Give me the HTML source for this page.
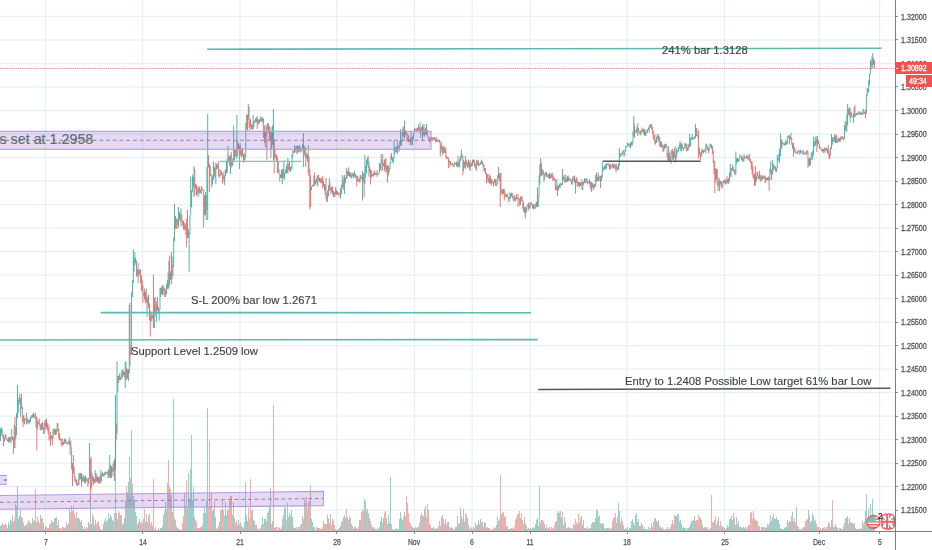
<!DOCTYPE html>
<html><head><meta charset="utf-8">
<style>
html,body{margin:0;padding:0;background:#fff;}
body{width:932px;height:550px;position:relative;overflow:hidden;font-family:"Liberation Sans",sans-serif;}
.gh{position:absolute;left:0;width:895px;height:1px;background:#eef1f6;}
.gv{position:absolute;top:0;height:531px;width:1px;background:#eef1f6;}
.pl{position:absolute;left:901px;width:40px;font-size:9px;line-height:12px;color:#50535c;-webkit-text-stroke:0.3px #50535c;transform:scaleX(0.79);transform-origin:0 0;white-space:nowrap;filter:grayscale(1);}
.tk{position:absolute;left:896px;width:2px;height:1px;background:#8a8d96;}
.tl{position:absolute;top:535.6px;width:40px;text-align:center;font-size:8.6px;line-height:12px;color:#50535c;-webkit-text-stroke:0.25px #50535c;transform:scaleX(0.8);filter:grayscale(1);}
.tt{position:absolute;top:532px;width:1px;height:2px;background:#8a8d96;}
svg{position:absolute;left:0;top:0;}
.txt{position:absolute;white-space:nowrap;font-size:11.25px;line-height:13px;color:#3f4249;-webkit-text-stroke:0.15px #3f4249;filter:grayscale(1);}
</style></head><body>
<svg width="895" height="531" style="position:absolute;left:0;top:0">
<line x1="0" y1="16.47" x2="895" y2="16.47" stroke="#e9f0f4" stroke-width="1.3"/>
<line x1="0" y1="39.98" x2="895" y2="39.98" stroke="#e9f0f4" stroke-width="1.3"/>
<line x1="0" y1="63.49" x2="895" y2="63.49" stroke="#e9f0f4" stroke-width="1.3"/>
<line x1="0" y1="86.99" x2="895" y2="86.99" stroke="#e9f0f4" stroke-width="1.3"/>
<line x1="0" y1="110.50" x2="895" y2="110.50" stroke="#e9f0f4" stroke-width="1.3"/>
<line x1="0" y1="134.01" x2="895" y2="134.01" stroke="#e9f0f4" stroke-width="1.3"/>
<line x1="0" y1="157.51" x2="895" y2="157.51" stroke="#e9f0f4" stroke-width="1.3"/>
<line x1="0" y1="181.02" x2="895" y2="181.02" stroke="#e9f0f4" stroke-width="1.3"/>
<line x1="0" y1="204.53" x2="895" y2="204.53" stroke="#e9f0f4" stroke-width="1.3"/>
<line x1="0" y1="228.04" x2="895" y2="228.04" stroke="#e9f0f4" stroke-width="1.3"/>
<line x1="0" y1="251.54" x2="895" y2="251.54" stroke="#e9f0f4" stroke-width="1.3"/>
<line x1="0" y1="275.05" x2="895" y2="275.05" stroke="#e9f0f4" stroke-width="1.3"/>
<line x1="0" y1="298.56" x2="895" y2="298.56" stroke="#e9f0f4" stroke-width="1.3"/>
<line x1="0" y1="322.06" x2="895" y2="322.06" stroke="#e9f0f4" stroke-width="1.3"/>
<line x1="0" y1="345.57" x2="895" y2="345.57" stroke="#e9f0f4" stroke-width="1.3"/>
<line x1="0" y1="369.08" x2="895" y2="369.08" stroke="#e9f0f4" stroke-width="1.3"/>
<line x1="0" y1="392.58" x2="895" y2="392.58" stroke="#e9f0f4" stroke-width="1.3"/>
<line x1="0" y1="416.09" x2="895" y2="416.09" stroke="#e9f0f4" stroke-width="1.3"/>
<line x1="0" y1="439.60" x2="895" y2="439.60" stroke="#e9f0f4" stroke-width="1.3"/>
<line x1="0" y1="463.11" x2="895" y2="463.11" stroke="#e9f0f4" stroke-width="1.3"/>
<line x1="0" y1="486.61" x2="895" y2="486.61" stroke="#e9f0f4" stroke-width="1.3"/>
<line x1="0" y1="510.12" x2="895" y2="510.12" stroke="#e9f0f4" stroke-width="1.3"/>
<line x1="45.50" y1="0" x2="45.50" y2="531" stroke="#e9f0f4" stroke-width="1.3"/>
<line x1="142.50" y1="0" x2="142.50" y2="531" stroke="#e9f0f4" stroke-width="1.3"/>
<line x1="240.00" y1="0" x2="240.00" y2="531" stroke="#e9f0f4" stroke-width="1.3"/>
<line x1="336.70" y1="0" x2="336.70" y2="531" stroke="#e9f0f4" stroke-width="1.3"/>
<line x1="414.40" y1="0" x2="414.40" y2="531" stroke="#e9f0f4" stroke-width="1.3"/>
<line x1="472.20" y1="0" x2="472.20" y2="531" stroke="#e9f0f4" stroke-width="1.3"/>
<line x1="530.20" y1="0" x2="530.20" y2="531" stroke="#e9f0f4" stroke-width="1.3"/>
<line x1="627.20" y1="0" x2="627.20" y2="531" stroke="#e9f0f4" stroke-width="1.3"/>
<line x1="724.50" y1="0" x2="724.50" y2="531" stroke="#e9f0f4" stroke-width="1.3"/>
<line x1="819.40" y1="0" x2="819.40" y2="531" stroke="#e9f0f4" stroke-width="1.3"/>
<line x1="879.60" y1="0" x2="879.60" y2="531" stroke="#e9f0f4" stroke-width="1.3"/>
</svg>
<svg width="895" height="531" viewBox="0 0 895 531">
<g shape-rendering="crispEdges">
<rect x="0" y="525.8" width="1" height="5.2" fill="#93d2cc"/>
<rect x="1" y="524.7" width="1" height="6.3" fill="#93d2cc"/>
<rect x="2" y="522.6" width="1" height="8.4" fill="#f8aba9"/>
<rect x="3" y="525.0" width="1" height="6.0" fill="#f8aba9"/>
<rect x="4" y="525.3" width="1" height="5.7" fill="#93d2cc"/>
<rect x="5" y="523.9" width="1" height="7.1" fill="#f8aba9"/>
<rect x="6" y="524.9" width="1" height="6.1" fill="#f8aba9"/>
<rect x="7" y="527.5" width="1" height="3.5" fill="#f8aba9"/>
<rect x="8" y="522.0" width="1" height="9.0" fill="#93d2cc"/>
<rect x="9" y="524.7" width="1" height="6.3" fill="#93d2cc"/>
<rect x="10" y="520.4" width="1" height="10.6" fill="#93d2cc"/>
<rect x="11" y="521.0" width="1" height="10.0" fill="#93d2cc"/>
<rect x="12" y="514.8" width="1" height="16.2" fill="#f8aba9"/>
<rect x="13" y="521.9" width="1" height="9.1" fill="#93d2cc"/>
<rect x="14" y="518.5" width="1" height="12.5" fill="#f8aba9"/>
<rect x="15" y="504.2" width="1" height="26.8" fill="#f8aba9"/>
<rect x="16" y="505.9" width="1" height="25.1" fill="#93d2cc"/>
<rect x="17" y="511.5" width="1" height="19.5" fill="#93d2cc"/>
<rect x="18" y="519.2" width="1" height="11.8" fill="#93d2cc"/>
<rect x="19" y="515.7" width="1" height="15.3" fill="#93d2cc"/>
<rect x="20" y="509.8" width="1" height="21.2" fill="#93d2cc"/>
<rect x="21" y="516.8" width="1" height="14.2" fill="#f8aba9"/>
<rect x="22" y="517.6" width="1" height="13.4" fill="#f8aba9"/>
<rect x="23" y="523.3" width="1" height="7.7" fill="#f8aba9"/>
<rect x="24" y="526.2" width="1" height="4.8" fill="#93d2cc"/>
<rect x="25" y="524.5" width="1" height="6.5" fill="#93d2cc"/>
<rect x="26" y="524.5" width="1" height="6.5" fill="#f8aba9"/>
<rect x="27" y="523.2" width="1" height="7.8" fill="#93d2cc"/>
<rect x="28" y="520.4" width="1" height="10.6" fill="#f8aba9"/>
<rect x="29" y="521.5" width="1" height="9.5" fill="#93d2cc"/>
<rect x="30" y="522.9" width="1" height="8.1" fill="#93d2cc"/>
<rect x="31" y="523.5" width="1" height="7.5" fill="#f8aba9"/>
<rect x="32" y="518.2" width="1" height="12.8" fill="#93d2cc"/>
<rect x="33" y="520.5" width="1" height="10.5" fill="#93d2cc"/>
<rect x="34" y="520.4" width="1" height="10.6" fill="#f8aba9"/>
<rect x="35" y="513.6" width="1" height="17.4" fill="#f8aba9"/>
<rect x="36" y="521.9" width="1" height="9.1" fill="#f8aba9"/>
<rect x="37" y="516.6" width="1" height="14.4" fill="#93d2cc"/>
<rect x="38" y="521.2" width="1" height="9.8" fill="#f8aba9"/>
<rect x="39" y="523.3" width="1" height="7.7" fill="#f8aba9"/>
<rect x="40" y="514.8" width="1" height="16.2" fill="#93d2cc"/>
<rect x="41" y="518.3" width="1" height="12.7" fill="#f8aba9"/>
<rect x="42" y="517.8" width="1" height="13.2" fill="#f8aba9"/>
<rect x="43" y="523.0" width="1" height="8.0" fill="#93d2cc"/>
<rect x="44" y="528.7" width="1" height="2.3" fill="#93d2cc"/>
<rect x="45" y="527.1" width="1" height="3.9" fill="#f8aba9"/>
<rect x="46" y="527.1" width="1" height="3.9" fill="#f8aba9"/>
<rect x="47" y="527.5" width="1" height="3.5" fill="#f8aba9"/>
<rect x="48" y="528.4" width="1" height="2.6" fill="#f8aba9"/>
<rect x="49" y="523.8" width="1" height="7.2" fill="#f8aba9"/>
<rect x="50" y="524.2" width="1" height="6.8" fill="#f8aba9"/>
<rect x="51" y="519.6" width="1" height="11.4" fill="#f8aba9"/>
<rect x="52" y="522.2" width="1" height="8.8" fill="#93d2cc"/>
<rect x="53" y="522.4" width="1" height="8.6" fill="#93d2cc"/>
<rect x="54" y="518.3" width="1" height="12.7" fill="#f8aba9"/>
<rect x="55" y="518.3" width="1" height="12.7" fill="#93d2cc"/>
<rect x="56" y="517.1" width="1" height="13.9" fill="#93d2cc"/>
<rect x="57" y="524.7" width="1" height="6.3" fill="#f8aba9"/>
<rect x="58" y="520.3" width="1" height="10.7" fill="#f8aba9"/>
<rect x="59" y="528.1" width="1" height="2.9" fill="#f8aba9"/>
<rect x="60" y="528.0" width="1" height="3.0" fill="#f8aba9"/>
<rect x="61" y="528.5" width="1" height="2.5" fill="#f8aba9"/>
<rect x="62" y="527.4" width="1" height="3.6" fill="#f8aba9"/>
<rect x="63" y="527.3" width="1" height="3.7" fill="#93d2cc"/>
<rect x="64" y="527.6" width="1" height="3.4" fill="#93d2cc"/>
<rect x="65" y="527.0" width="1" height="4.0" fill="#f8aba9"/>
<rect x="66" y="522.2" width="1" height="8.8" fill="#f8aba9"/>
<rect x="67" y="524.7" width="1" height="6.3" fill="#f8aba9"/>
<rect x="68" y="524.1" width="1" height="6.9" fill="#93d2cc"/>
<rect x="69" y="509.1" width="1" height="21.9" fill="#93d2cc"/>
<rect x="70" y="511.6" width="1" height="19.4" fill="#f8aba9"/>
<rect x="71" y="506.0" width="1" height="25.0" fill="#f8aba9"/>
<rect x="72" y="510.9" width="1" height="20.1" fill="#93d2cc"/>
<rect x="73" y="505.9" width="1" height="25.1" fill="#f8aba9"/>
<rect x="74" y="512.9" width="1" height="18.1" fill="#f8aba9"/>
<rect x="75" y="517.7" width="1" height="13.3" fill="#f8aba9"/>
<rect x="76" y="512.1" width="1" height="18.9" fill="#f8aba9"/>
<rect x="77" y="518.2" width="1" height="12.8" fill="#93d2cc"/>
<rect x="78" y="517.5" width="1" height="13.5" fill="#93d2cc"/>
<rect x="79" y="519.4" width="1" height="11.6" fill="#93d2cc"/>
<rect x="80" y="521.6" width="1" height="9.4" fill="#93d2cc"/>
<rect x="81" y="520.4" width="1" height="10.6" fill="#f8aba9"/>
<rect x="82" y="526.1" width="1" height="4.9" fill="#93d2cc"/>
<rect x="83" y="529.2" width="1" height="1.8" fill="#93d2cc"/>
<rect x="84" y="527.1" width="1" height="3.9" fill="#f8aba9"/>
<rect x="85" y="529.0" width="1" height="2.0" fill="#f8aba9"/>
<rect x="86" y="526.6" width="1" height="4.4" fill="#f8aba9"/>
<rect x="87" y="527.5" width="1" height="3.5" fill="#f8aba9"/>
<rect x="88" y="522.3" width="1" height="8.7" fill="#93d2cc"/>
<rect x="89" y="523.6" width="1" height="7.4" fill="#f8aba9"/>
<rect x="90" y="523.3" width="1" height="7.7" fill="#f8aba9"/>
<rect x="91" y="524.2" width="1" height="6.8" fill="#93d2cc"/>
<rect x="92" y="514.0" width="1" height="17.0" fill="#f8aba9"/>
<rect x="93" y="517.1" width="1" height="13.9" fill="#f8aba9"/>
<rect x="94" y="524.5" width="1" height="6.5" fill="#93d2cc"/>
<rect x="95" y="519.6" width="1" height="11.4" fill="#93d2cc"/>
<rect x="96" y="523.5" width="1" height="7.5" fill="#f8aba9"/>
<rect x="97" y="521.8" width="1" height="9.2" fill="#f8aba9"/>
<rect x="98" y="521.3" width="1" height="9.7" fill="#f8aba9"/>
<rect x="99" y="526.2" width="1" height="4.8" fill="#f8aba9"/>
<rect x="100" y="529.3" width="1" height="1.7" fill="#93d2cc"/>
<rect x="101" y="529.6" width="1" height="1.4" fill="#93d2cc"/>
<rect x="102" y="528.6" width="1" height="2.4" fill="#f8aba9"/>
<rect x="103" y="523.6" width="1" height="7.4" fill="#93d2cc"/>
<rect x="104" y="520.6" width="1" height="10.4" fill="#93d2cc"/>
<rect x="105" y="517.9" width="1" height="13.1" fill="#93d2cc"/>
<rect x="106" y="522.3" width="1" height="8.7" fill="#f8aba9"/>
<rect x="107" y="520.1" width="1" height="10.9" fill="#f8aba9"/>
<rect x="108" y="513.1" width="1" height="17.9" fill="#93d2cc"/>
<rect x="109" y="518.4" width="1" height="12.6" fill="#93d2cc"/>
<rect x="110" y="514.5" width="1" height="16.5" fill="#93d2cc"/>
<rect x="111" y="516.6" width="1" height="14.4" fill="#93d2cc"/>
<rect x="112" y="520.4" width="1" height="10.6" fill="#93d2cc"/>
<rect x="113" y="521.3" width="1" height="9.7" fill="#f8aba9"/>
<rect x="114" y="513.3" width="1" height="17.7" fill="#f8aba9"/>
<rect x="115" y="521.1" width="1" height="9.9" fill="#f8aba9"/>
<rect x="116" y="513.4" width="1" height="17.6" fill="#93d2cc"/>
<rect x="117" y="518.8" width="1" height="12.2" fill="#93d2cc"/>
<rect x="118" y="510.9" width="1" height="20.1" fill="#f8aba9"/>
<rect x="119" y="512.9" width="1" height="18.1" fill="#f8aba9"/>
<rect x="120" y="515.1" width="1" height="15.9" fill="#93d2cc"/>
<rect x="121" y="514.6" width="1" height="16.4" fill="#f8aba9"/>
<rect x="122" y="524.6" width="1" height="6.4" fill="#93d2cc"/>
<rect x="123" y="523.0" width="1" height="8.0" fill="#f8aba9"/>
<rect x="124" y="518.2" width="1" height="12.8" fill="#93d2cc"/>
<rect x="125" y="500.9" width="1" height="30.1" fill="#93d2cc"/>
<rect x="126" y="486.3" width="1" height="44.7" fill="#f8aba9"/>
<rect x="127" y="492.4" width="1" height="38.6" fill="#93d2cc"/>
<rect x="128" y="482.1" width="1" height="48.9" fill="#93d2cc"/>
<rect x="129" y="511.1" width="1" height="19.9" fill="#f8aba9"/>
<rect x="130" y="477.8" width="1" height="53.2" fill="#f8aba9"/>
<rect x="131" y="478.4" width="1" height="52.6" fill="#93d2cc"/>
<rect x="132" y="484.2" width="1" height="46.8" fill="#93d2cc"/>
<rect x="133" y="495.6" width="1" height="35.4" fill="#93d2cc"/>
<rect x="134" y="501.3" width="1" height="29.7" fill="#93d2cc"/>
<rect x="135" y="511.8" width="1" height="19.2" fill="#93d2cc"/>
<rect x="136" y="515.5" width="1" height="15.5" fill="#f8aba9"/>
<rect x="137" y="524.2" width="1" height="6.8" fill="#93d2cc"/>
<rect x="138" y="521.8" width="1" height="9.2" fill="#f8aba9"/>
<rect x="139" y="518.8" width="1" height="12.2" fill="#93d2cc"/>
<rect x="140" y="522.5" width="1" height="8.5" fill="#f8aba9"/>
<rect x="141" y="520.7" width="1" height="10.3" fill="#f8aba9"/>
<rect x="142" y="522.9" width="1" height="8.1" fill="#f8aba9"/>
<rect x="143" y="518.8" width="1" height="12.2" fill="#93d2cc"/>
<rect x="144" y="509.2" width="1" height="21.8" fill="#f8aba9"/>
<rect x="145" y="522.4" width="1" height="8.6" fill="#93d2cc"/>
<rect x="146" y="513.6" width="1" height="17.4" fill="#93d2cc"/>
<rect x="147" y="522.4" width="1" height="8.6" fill="#f8aba9"/>
<rect x="148" y="516.4" width="1" height="14.6" fill="#f8aba9"/>
<rect x="149" y="514.0" width="1" height="17.0" fill="#f8aba9"/>
<rect x="150" y="524.1" width="1" height="6.9" fill="#f8aba9"/>
<rect x="151" y="521.8" width="1" height="9.2" fill="#93d2cc"/>
<rect x="152" y="526.2" width="1" height="4.8" fill="#93d2cc"/>
<rect x="153" y="528.0" width="1" height="3.0" fill="#93d2cc"/>
<rect x="154" y="528.7" width="1" height="2.3" fill="#f8aba9"/>
<rect x="155" y="526.9" width="1" height="4.1" fill="#f8aba9"/>
<rect x="156" y="529.7" width="1" height="1.3" fill="#93d2cc"/>
<rect x="157" y="529.9" width="1" height="1.1" fill="#f8aba9"/>
<rect x="158" y="527.7" width="1" height="3.3" fill="#93d2cc"/>
<rect x="159" y="529.7" width="1" height="1.3" fill="#93d2cc"/>
<rect x="160" y="528.0" width="1" height="3.0" fill="#93d2cc"/>
<rect x="161" y="527.9" width="1" height="3.1" fill="#93d2cc"/>
<rect x="162" y="525.9" width="1" height="5.1" fill="#f8aba9"/>
<rect x="163" y="514.9" width="1" height="16.1" fill="#93d2cc"/>
<rect x="164" y="510.5" width="1" height="20.5" fill="#f8aba9"/>
<rect x="165" y="501.8" width="1" height="29.2" fill="#93d2cc"/>
<rect x="166" y="508.8" width="1" height="22.2" fill="#93d2cc"/>
<rect x="167" y="483.2" width="1" height="47.8" fill="#93d2cc"/>
<rect x="168" y="485.3" width="1" height="45.7" fill="#93d2cc"/>
<rect x="169" y="485.9" width="1" height="45.1" fill="#f8aba9"/>
<rect x="170" y="488.9" width="1" height="42.1" fill="#f8aba9"/>
<rect x="171" y="494.5" width="1" height="36.5" fill="#93d2cc"/>
<rect x="172" y="512.0" width="1" height="19.0" fill="#f8aba9"/>
<rect x="173" y="492.9" width="1" height="38.1" fill="#93d2cc"/>
<rect x="174" y="518.4" width="1" height="12.6" fill="#93d2cc"/>
<rect x="175" y="519.8" width="1" height="11.2" fill="#f8aba9"/>
<rect x="176" y="526.1" width="1" height="4.9" fill="#f8aba9"/>
<rect x="177" y="528.0" width="1" height="3.0" fill="#93d2cc"/>
<rect x="178" y="528.8" width="1" height="2.2" fill="#93d2cc"/>
<rect x="179" y="529.3" width="1" height="1.7" fill="#f8aba9"/>
<rect x="180" y="529.7" width="1" height="1.3" fill="#93d2cc"/>
<rect x="181" y="529.8" width="1" height="1.2" fill="#f8aba9"/>
<rect x="182" y="523.1" width="1" height="7.9" fill="#f8aba9"/>
<rect x="183" y="515.6" width="1" height="15.4" fill="#f8aba9"/>
<rect x="184" y="492.8" width="1" height="38.2" fill="#93d2cc"/>
<rect x="185" y="506.4" width="1" height="24.6" fill="#f8aba9"/>
<rect x="186" y="480.2" width="1" height="50.8" fill="#f8aba9"/>
<rect x="187" y="507.6" width="1" height="23.4" fill="#93d2cc"/>
<rect x="188" y="472.7" width="1" height="58.3" fill="#93d2cc"/>
<rect x="189" y="500.3" width="1" height="30.7" fill="#93d2cc"/>
<rect x="190" y="469.3" width="1" height="61.7" fill="#93d2cc"/>
<rect x="191" y="480.8" width="1" height="50.2" fill="#93d2cc"/>
<rect x="192" y="500.3" width="1" height="30.7" fill="#93d2cc"/>
<rect x="193" y="486.5" width="1" height="44.5" fill="#93d2cc"/>
<rect x="194" y="516.8" width="1" height="14.2" fill="#f8aba9"/>
<rect x="195" y="519.5" width="1" height="11.5" fill="#f8aba9"/>
<rect x="196" y="522.0" width="1" height="9.0" fill="#f8aba9"/>
<rect x="197" y="527.7" width="1" height="3.3" fill="#93d2cc"/>
<rect x="198" y="528.3" width="1" height="2.7" fill="#f8aba9"/>
<rect x="199" y="527.8" width="1" height="3.2" fill="#f8aba9"/>
<rect x="200" y="527.4" width="1" height="3.6" fill="#93d2cc"/>
<rect x="201" y="527.4" width="1" height="3.6" fill="#f8aba9"/>
<rect x="202" y="525.2" width="1" height="5.8" fill="#93d2cc"/>
<rect x="203" y="513.3" width="1" height="17.7" fill="#f8aba9"/>
<rect x="204" y="506.1" width="1" height="24.9" fill="#93d2cc"/>
<rect x="205" y="513.1" width="1" height="17.9" fill="#93d2cc"/>
<rect x="206" y="501.1" width="1" height="29.9" fill="#93d2cc"/>
<rect x="207" y="505.7" width="1" height="25.3" fill="#93d2cc"/>
<rect x="208" y="506.7" width="1" height="24.3" fill="#f8aba9"/>
<rect x="209" y="489.1" width="1" height="41.9" fill="#f8aba9"/>
<rect x="210" y="506.4" width="1" height="24.6" fill="#f8aba9"/>
<rect x="211" y="492.3" width="1" height="38.7" fill="#f8aba9"/>
<rect x="212" y="511.3" width="1" height="19.7" fill="#93d2cc"/>
<rect x="213" y="509.3" width="1" height="21.7" fill="#93d2cc"/>
<rect x="214" y="500.9" width="1" height="30.1" fill="#f8aba9"/>
<rect x="215" y="516.5" width="1" height="14.5" fill="#93d2cc"/>
<rect x="216" y="527.8" width="1" height="3.2" fill="#f8aba9"/>
<rect x="217" y="529.2" width="1" height="1.8" fill="#f8aba9"/>
<rect x="218" y="526.4" width="1" height="4.6" fill="#f8aba9"/>
<rect x="219" y="522.3" width="1" height="8.7" fill="#93d2cc"/>
<rect x="220" y="510.2" width="1" height="20.8" fill="#93d2cc"/>
<rect x="221" y="510.3" width="1" height="20.7" fill="#f8aba9"/>
<rect x="222" y="499.5" width="1" height="31.5" fill="#f8aba9"/>
<rect x="223" y="509.6" width="1" height="21.4" fill="#f8aba9"/>
<rect x="224" y="515.9" width="1" height="15.1" fill="#93d2cc"/>
<rect x="225" y="502.0" width="1" height="29.0" fill="#93d2cc"/>
<rect x="226" y="514.7" width="1" height="16.3" fill="#93d2cc"/>
<rect x="227" y="509.6" width="1" height="21.4" fill="#93d2cc"/>
<rect x="228" y="508.5" width="1" height="22.5" fill="#f8aba9"/>
<rect x="229" y="500.7" width="1" height="30.3" fill="#f8aba9"/>
<rect x="230" y="496.3" width="1" height="34.7" fill="#f8aba9"/>
<rect x="231" y="496.3" width="1" height="34.7" fill="#f8aba9"/>
<rect x="232" y="515.2" width="1" height="15.8" fill="#93d2cc"/>
<rect x="233" y="502.2" width="1" height="28.8" fill="#93d2cc"/>
<rect x="234" y="518.3" width="1" height="12.7" fill="#f8aba9"/>
<rect x="235" y="522.5" width="1" height="8.5" fill="#f8aba9"/>
<rect x="236" y="520.8" width="1" height="10.2" fill="#93d2cc"/>
<rect x="237" y="525.3" width="1" height="5.7" fill="#f8aba9"/>
<rect x="238" y="519.6" width="1" height="11.4" fill="#93d2cc"/>
<rect x="239" y="523.7" width="1" height="7.3" fill="#f8aba9"/>
<rect x="240" y="522.1" width="1" height="8.9" fill="#93d2cc"/>
<rect x="241" y="526.4" width="1" height="4.6" fill="#f8aba9"/>
<rect x="242" y="526.9" width="1" height="4.1" fill="#f8aba9"/>
<rect x="243" y="527.9" width="1" height="3.1" fill="#f8aba9"/>
<rect x="244" y="521.6" width="1" height="9.4" fill="#93d2cc"/>
<rect x="245" y="524.2" width="1" height="6.8" fill="#93d2cc"/>
<rect x="246" y="514.9" width="1" height="16.1" fill="#93d2cc"/>
<rect x="247" y="520.8" width="1" height="10.2" fill="#93d2cc"/>
<rect x="248" y="507.8" width="1" height="23.2" fill="#f8aba9"/>
<rect x="249" y="519.1" width="1" height="11.9" fill="#f8aba9"/>
<rect x="250" y="504.9" width="1" height="26.1" fill="#f8aba9"/>
<rect x="251" y="510.5" width="1" height="20.5" fill="#f8aba9"/>
<rect x="252" y="509.7" width="1" height="21.3" fill="#93d2cc"/>
<rect x="253" y="519.7" width="1" height="11.3" fill="#93d2cc"/>
<rect x="254" y="521.1" width="1" height="9.9" fill="#f8aba9"/>
<rect x="255" y="524.9" width="1" height="6.1" fill="#93d2cc"/>
<rect x="256" y="525.3" width="1" height="5.7" fill="#f8aba9"/>
<rect x="257" y="528.7" width="1" height="2.3" fill="#93d2cc"/>
<rect x="258" y="528.3" width="1" height="2.7" fill="#f8aba9"/>
<rect x="259" y="529.6" width="1" height="1.4" fill="#93d2cc"/>
<rect x="260" y="528.1" width="1" height="2.9" fill="#f8aba9"/>
<rect x="261" y="524.5" width="1" height="6.5" fill="#93d2cc"/>
<rect x="262" y="516.7" width="1" height="14.3" fill="#93d2cc"/>
<rect x="263" y="523.7" width="1" height="7.3" fill="#f8aba9"/>
<rect x="264" y="519.3" width="1" height="11.7" fill="#93d2cc"/>
<rect x="265" y="518.5" width="1" height="12.5" fill="#93d2cc"/>
<rect x="266" y="521.0" width="1" height="10.0" fill="#f8aba9"/>
<rect x="267" y="513.1" width="1" height="17.9" fill="#93d2cc"/>
<rect x="268" y="511.1" width="1" height="19.9" fill="#f8aba9"/>
<rect x="269" y="506.9" width="1" height="24.1" fill="#93d2cc"/>
<rect x="270" y="522.4" width="1" height="8.6" fill="#93d2cc"/>
<rect x="271" y="523.8" width="1" height="7.2" fill="#f8aba9"/>
<rect x="272" y="520.8" width="1" height="10.2" fill="#93d2cc"/>
<rect x="273" y="527.1" width="1" height="3.9" fill="#f8aba9"/>
<rect x="274" y="528.3" width="1" height="2.7" fill="#f8aba9"/>
<rect x="275" y="526.7" width="1" height="4.3" fill="#f8aba9"/>
<rect x="276" y="527.3" width="1" height="3.7" fill="#f8aba9"/>
<rect x="277" y="529.5" width="1" height="1.5" fill="#93d2cc"/>
<rect x="278" y="527.2" width="1" height="3.8" fill="#f8aba9"/>
<rect x="279" y="527.8" width="1" height="3.2" fill="#f8aba9"/>
<rect x="280" y="528.8" width="1" height="2.2" fill="#93d2cc"/>
<rect x="281" y="526.6" width="1" height="4.4" fill="#93d2cc"/>
<rect x="282" y="519.2" width="1" height="11.8" fill="#f8aba9"/>
<rect x="283" y="515.3" width="1" height="15.7" fill="#93d2cc"/>
<rect x="284" y="507.1" width="1" height="23.9" fill="#93d2cc"/>
<rect x="285" y="507.9" width="1" height="23.1" fill="#93d2cc"/>
<rect x="286" y="519.7" width="1" height="11.3" fill="#f8aba9"/>
<rect x="287" y="503.4" width="1" height="27.6" fill="#93d2cc"/>
<rect x="288" y="517.4" width="1" height="13.6" fill="#f8aba9"/>
<rect x="289" y="513.1" width="1" height="17.9" fill="#93d2cc"/>
<rect x="290" y="516.0" width="1" height="15.0" fill="#93d2cc"/>
<rect x="291" y="509.9" width="1" height="21.1" fill="#93d2cc"/>
<rect x="292" y="517.1" width="1" height="13.9" fill="#93d2cc"/>
<rect x="293" y="527.0" width="1" height="4.0" fill="#f8aba9"/>
<rect x="294" y="527.6" width="1" height="3.4" fill="#f8aba9"/>
<rect x="295" y="528.4" width="1" height="2.6" fill="#93d2cc"/>
<rect x="296" y="527.0" width="1" height="4.0" fill="#f8aba9"/>
<rect x="297" y="529.0" width="1" height="2.0" fill="#93d2cc"/>
<rect x="298" y="526.6" width="1" height="4.4" fill="#93d2cc"/>
<rect x="299" y="527.1" width="1" height="3.9" fill="#f8aba9"/>
<rect x="300" y="524.8" width="1" height="6.2" fill="#f8aba9"/>
<rect x="301" y="523.9" width="1" height="7.1" fill="#93d2cc"/>
<rect x="302" y="515.9" width="1" height="15.1" fill="#93d2cc"/>
<rect x="303" y="519.4" width="1" height="11.6" fill="#f8aba9"/>
<rect x="304" y="500.2" width="1" height="30.8" fill="#93d2cc"/>
<rect x="305" y="502.8" width="1" height="28.2" fill="#f8aba9"/>
<rect x="306" y="496.6" width="1" height="34.4" fill="#f8aba9"/>
<rect x="307" y="507.6" width="1" height="23.4" fill="#93d2cc"/>
<rect x="308" y="501.8" width="1" height="29.2" fill="#f8aba9"/>
<rect x="309" y="500.6" width="1" height="30.4" fill="#f8aba9"/>
<rect x="310" y="521.7" width="1" height="9.3" fill="#f8aba9"/>
<rect x="311" y="518.6" width="1" height="12.4" fill="#93d2cc"/>
<rect x="312" y="521.6" width="1" height="9.4" fill="#93d2cc"/>
<rect x="313" y="527.3" width="1" height="3.7" fill="#93d2cc"/>
<rect x="314" y="527.1" width="1" height="3.9" fill="#f8aba9"/>
<rect x="315" y="529.5" width="1" height="1.5" fill="#93d2cc"/>
<rect x="316" y="527.2" width="1" height="3.8" fill="#f8aba9"/>
<rect x="317" y="527.9" width="1" height="3.1" fill="#93d2cc"/>
<rect x="318" y="528.3" width="1" height="2.7" fill="#f8aba9"/>
<rect x="319" y="528.1" width="1" height="2.9" fill="#f8aba9"/>
<rect x="320" y="528.6" width="1" height="2.4" fill="#f8aba9"/>
<rect x="321" y="529.1" width="1" height="1.9" fill="#f8aba9"/>
<rect x="322" y="526.8" width="1" height="4.2" fill="#f8aba9"/>
<rect x="323" y="520.5" width="1" height="10.5" fill="#f8aba9"/>
<rect x="324" y="523.6" width="1" height="7.4" fill="#f8aba9"/>
<rect x="325" y="523.9" width="1" height="7.1" fill="#f8aba9"/>
<rect x="326" y="524.2" width="1" height="6.8" fill="#f8aba9"/>
<rect x="327" y="515.0" width="1" height="16.0" fill="#93d2cc"/>
<rect x="328" y="517.5" width="1" height="13.5" fill="#93d2cc"/>
<rect x="329" y="522.9" width="1" height="8.1" fill="#f8aba9"/>
<rect x="330" y="513.8" width="1" height="17.2" fill="#f8aba9"/>
<rect x="331" y="524.7" width="1" height="6.3" fill="#f8aba9"/>
<rect x="332" y="519.1" width="1" height="11.9" fill="#f8aba9"/>
<rect x="333" y="521.2" width="1" height="9.8" fill="#f8aba9"/>
<rect x="334" y="525.3" width="1" height="5.7" fill="#93d2cc"/>
<rect x="335" y="529.4" width="1" height="1.6" fill="#93d2cc"/>
<rect x="336" y="529.7" width="1" height="1.3" fill="#f8aba9"/>
<rect x="337" y="528.7" width="1" height="2.3" fill="#f8aba9"/>
<rect x="338" y="528.9" width="1" height="2.1" fill="#f8aba9"/>
<rect x="339" y="527.7" width="1" height="3.3" fill="#93d2cc"/>
<rect x="340" y="525.8" width="1" height="5.2" fill="#93d2cc"/>
<rect x="341" y="522.2" width="1" height="8.8" fill="#93d2cc"/>
<rect x="342" y="521.4" width="1" height="9.6" fill="#f8aba9"/>
<rect x="343" y="517.3" width="1" height="13.7" fill="#f8aba9"/>
<rect x="344" y="515.4" width="1" height="15.6" fill="#93d2cc"/>
<rect x="345" y="517.7" width="1" height="13.3" fill="#93d2cc"/>
<rect x="346" y="508.6" width="1" height="22.4" fill="#f8aba9"/>
<rect x="347" y="517.2" width="1" height="13.8" fill="#93d2cc"/>
<rect x="348" y="520.2" width="1" height="10.8" fill="#f8aba9"/>
<rect x="349" y="515.5" width="1" height="15.5" fill="#f8aba9"/>
<rect x="350" y="518.0" width="1" height="13.0" fill="#93d2cc"/>
<rect x="351" y="523.9" width="1" height="7.1" fill="#93d2cc"/>
<rect x="352" y="525.8" width="1" height="5.2" fill="#f8aba9"/>
<rect x="353" y="528.5" width="1" height="2.5" fill="#93d2cc"/>
<rect x="354" y="526.7" width="1" height="4.3" fill="#93d2cc"/>
<rect x="355" y="526.9" width="1" height="4.1" fill="#f8aba9"/>
<rect x="356" y="528.4" width="1" height="2.6" fill="#f8aba9"/>
<rect x="357" y="528.9" width="1" height="2.1" fill="#f8aba9"/>
<rect x="358" y="526.6" width="1" height="4.4" fill="#f8aba9"/>
<rect x="359" y="519.5" width="1" height="11.5" fill="#93d2cc"/>
<rect x="360" y="520.1" width="1" height="10.9" fill="#93d2cc"/>
<rect x="361" y="511.6" width="1" height="19.4" fill="#f8aba9"/>
<rect x="362" y="509.0" width="1" height="22.0" fill="#f8aba9"/>
<rect x="363" y="511.0" width="1" height="20.0" fill="#f8aba9"/>
<rect x="364" y="499.1" width="1" height="31.9" fill="#93d2cc"/>
<rect x="365" y="501.1" width="1" height="29.9" fill="#93d2cc"/>
<rect x="366" y="509.5" width="1" height="21.5" fill="#93d2cc"/>
<rect x="367" y="508.5" width="1" height="22.5" fill="#f8aba9"/>
<rect x="368" y="513.3" width="1" height="17.7" fill="#93d2cc"/>
<rect x="369" y="518.1" width="1" height="12.9" fill="#f8aba9"/>
<rect x="370" y="520.8" width="1" height="10.2" fill="#f8aba9"/>
<rect x="371" y="524.6" width="1" height="6.4" fill="#f8aba9"/>
<rect x="372" y="527.2" width="1" height="3.8" fill="#93d2cc"/>
<rect x="373" y="527.6" width="1" height="3.4" fill="#93d2cc"/>
<rect x="374" y="527.3" width="1" height="3.7" fill="#f8aba9"/>
<rect x="375" y="528.6" width="1" height="2.4" fill="#93d2cc"/>
<rect x="376" y="529.6" width="1" height="1.4" fill="#f8aba9"/>
<rect x="377" y="527.8" width="1" height="3.2" fill="#93d2cc"/>
<rect x="378" y="529.0" width="1" height="2.0" fill="#93d2cc"/>
<rect x="379" y="527.0" width="1" height="4.0" fill="#f8aba9"/>
<rect x="380" y="520.6" width="1" height="10.4" fill="#93d2cc"/>
<rect x="381" y="516.8" width="1" height="14.2" fill="#93d2cc"/>
<rect x="382" y="522.8" width="1" height="8.2" fill="#f8aba9"/>
<rect x="383" y="518.0" width="1" height="13.0" fill="#93d2cc"/>
<rect x="384" y="512.7" width="1" height="18.3" fill="#f8aba9"/>
<rect x="385" y="510.5" width="1" height="20.5" fill="#f8aba9"/>
<rect x="386" y="517.8" width="1" height="13.2" fill="#93d2cc"/>
<rect x="387" y="523.8" width="1" height="7.2" fill="#f8aba9"/>
<rect x="388" y="514.5" width="1" height="16.5" fill="#93d2cc"/>
<rect x="389" y="523.1" width="1" height="7.9" fill="#93d2cc"/>
<rect x="390" y="525.5" width="1" height="5.5" fill="#93d2cc"/>
<rect x="391" y="524.2" width="1" height="6.8" fill="#f8aba9"/>
<rect x="392" y="529.2" width="1" height="1.8" fill="#93d2cc"/>
<rect x="393" y="529.7" width="1" height="1.3" fill="#93d2cc"/>
<rect x="394" y="529.7" width="1" height="1.3" fill="#93d2cc"/>
<rect x="395" y="529.3" width="1" height="1.7" fill="#93d2cc"/>
<rect x="396" y="528.4" width="1" height="2.6" fill="#93d2cc"/>
<rect x="397" y="529.7" width="1" height="1.3" fill="#f8aba9"/>
<rect x="398" y="528.6" width="1" height="2.4" fill="#93d2cc"/>
<rect x="399" y="519.2" width="1" height="11.8" fill="#93d2cc"/>
<rect x="400" y="512.1" width="1" height="18.9" fill="#93d2cc"/>
<rect x="401" y="518.0" width="1" height="13.0" fill="#93d2cc"/>
<rect x="402" y="520.0" width="1" height="11.0" fill="#93d2cc"/>
<rect x="403" y="517.0" width="1" height="14.0" fill="#f8aba9"/>
<rect x="404" y="511.6" width="1" height="19.4" fill="#93d2cc"/>
<rect x="405" y="515.7" width="1" height="15.3" fill="#f8aba9"/>
<rect x="406" y="496.2" width="1" height="34.8" fill="#f8aba9"/>
<rect x="407" y="503.3" width="1" height="27.7" fill="#f8aba9"/>
<rect x="408" y="512.6" width="1" height="18.4" fill="#f8aba9"/>
<rect x="409" y="522.2" width="1" height="8.8" fill="#f8aba9"/>
<rect x="410" y="523.4" width="1" height="7.6" fill="#93d2cc"/>
<rect x="411" y="526.2" width="1" height="4.8" fill="#f8aba9"/>
<rect x="412" y="527.0" width="1" height="4.0" fill="#93d2cc"/>
<rect x="413" y="528.4" width="1" height="2.6" fill="#93d2cc"/>
<rect x="414" y="528.4" width="1" height="2.6" fill="#f8aba9"/>
<rect x="415" y="527.1" width="1" height="3.9" fill="#f8aba9"/>
<rect x="416" y="527.8" width="1" height="3.2" fill="#93d2cc"/>
<rect x="417" y="527.1" width="1" height="3.9" fill="#93d2cc"/>
<rect x="418" y="527.1" width="1" height="3.9" fill="#f8aba9"/>
<rect x="419" y="522.5" width="1" height="8.5" fill="#f8aba9"/>
<rect x="420" y="516.4" width="1" height="14.6" fill="#93d2cc"/>
<rect x="421" y="513.0" width="1" height="18.0" fill="#f8aba9"/>
<rect x="422" y="514.5" width="1" height="16.5" fill="#f8aba9"/>
<rect x="423" y="515.7" width="1" height="15.3" fill="#93d2cc"/>
<rect x="424" y="509.4" width="1" height="21.6" fill="#93d2cc"/>
<rect x="425" y="505.5" width="1" height="25.5" fill="#f8aba9"/>
<rect x="426" y="517.3" width="1" height="13.7" fill="#f8aba9"/>
<rect x="427" y="504.3" width="1" height="26.7" fill="#f8aba9"/>
<rect x="428" y="509.6" width="1" height="21.4" fill="#f8aba9"/>
<rect x="429" y="524.3" width="1" height="6.7" fill="#f8aba9"/>
<rect x="430" y="524.6" width="1" height="6.4" fill="#93d2cc"/>
<rect x="431" y="527.5" width="1" height="3.5" fill="#f8aba9"/>
<rect x="432" y="527.5" width="1" height="3.5" fill="#93d2cc"/>
<rect x="433" y="527.2" width="1" height="3.8" fill="#93d2cc"/>
<rect x="434" y="528.6" width="1" height="2.4" fill="#f8aba9"/>
<rect x="435" y="528.2" width="1" height="2.8" fill="#f8aba9"/>
<rect x="436" y="528.9" width="1" height="2.1" fill="#93d2cc"/>
<rect x="437" y="527.6" width="1" height="3.4" fill="#f8aba9"/>
<rect x="438" y="526.1" width="1" height="4.9" fill="#f8aba9"/>
<rect x="439" y="521.4" width="1" height="9.6" fill="#f8aba9"/>
<rect x="440" y="525.7" width="1" height="5.3" fill="#93d2cc"/>
<rect x="441" y="516.8" width="1" height="14.2" fill="#f8aba9"/>
<rect x="442" y="515.0" width="1" height="16.0" fill="#93d2cc"/>
<rect x="443" y="519.4" width="1" height="11.6" fill="#f8aba9"/>
<rect x="444" y="524.3" width="1" height="6.7" fill="#93d2cc"/>
<rect x="445" y="518.6" width="1" height="12.4" fill="#f8aba9"/>
<rect x="446" y="525.3" width="1" height="5.7" fill="#f8aba9"/>
<rect x="447" y="522.4" width="1" height="8.6" fill="#f8aba9"/>
<rect x="448" y="522.1" width="1" height="8.9" fill="#93d2cc"/>
<rect x="449" y="526.7" width="1" height="4.3" fill="#f8aba9"/>
<rect x="450" y="527.5" width="1" height="3.5" fill="#f8aba9"/>
<rect x="451" y="527.3" width="1" height="3.7" fill="#f8aba9"/>
<rect x="452" y="527.5" width="1" height="3.5" fill="#f8aba9"/>
<rect x="453" y="528.9" width="1" height="2.1" fill="#93d2cc"/>
<rect x="454" y="529.8" width="1" height="1.2" fill="#93d2cc"/>
<rect x="455" y="527.3" width="1" height="3.7" fill="#93d2cc"/>
<rect x="456" y="526.8" width="1" height="4.2" fill="#93d2cc"/>
<rect x="457" y="516.4" width="1" height="14.6" fill="#f8aba9"/>
<rect x="458" y="523.7" width="1" height="7.3" fill="#93d2cc"/>
<rect x="459" y="522.8" width="1" height="8.2" fill="#93d2cc"/>
<rect x="460" y="508.1" width="1" height="22.9" fill="#93d2cc"/>
<rect x="461" y="516.0" width="1" height="15.0" fill="#f8aba9"/>
<rect x="462" y="519.3" width="1" height="11.7" fill="#f8aba9"/>
<rect x="463" y="509.3" width="1" height="21.7" fill="#93d2cc"/>
<rect x="464" y="522.0" width="1" height="9.0" fill="#93d2cc"/>
<rect x="465" y="513.1" width="1" height="17.9" fill="#f8aba9"/>
<rect x="466" y="515.4" width="1" height="15.6" fill="#f8aba9"/>
<rect x="467" y="517.7" width="1" height="13.3" fill="#93d2cc"/>
<rect x="468" y="525.1" width="1" height="5.9" fill="#93d2cc"/>
<rect x="469" y="528.9" width="1" height="2.1" fill="#f8aba9"/>
<rect x="470" y="527.2" width="1" height="3.8" fill="#f8aba9"/>
<rect x="471" y="527.5" width="1" height="3.5" fill="#93d2cc"/>
<rect x="472" y="528.7" width="1" height="2.3" fill="#93d2cc"/>
<rect x="473" y="526.9" width="1" height="4.1" fill="#f8aba9"/>
<rect x="474" y="528.1" width="1" height="2.9" fill="#f8aba9"/>
<rect x="475" y="523.2" width="1" height="7.8" fill="#f8aba9"/>
<rect x="476" y="524.8" width="1" height="6.2" fill="#93d2cc"/>
<rect x="477" y="525.4" width="1" height="5.6" fill="#f8aba9"/>
<rect x="478" y="519.5" width="1" height="11.5" fill="#93d2cc"/>
<rect x="479" y="524.2" width="1" height="6.8" fill="#93d2cc"/>
<rect x="480" y="518.8" width="1" height="12.2" fill="#93d2cc"/>
<rect x="481" y="521.5" width="1" height="9.5" fill="#f8aba9"/>
<rect x="482" y="521.8" width="1" height="9.2" fill="#f8aba9"/>
<rect x="483" y="526.7" width="1" height="4.3" fill="#f8aba9"/>
<rect x="484" y="521.8" width="1" height="9.2" fill="#93d2cc"/>
<rect x="485" y="523.0" width="1" height="8.0" fill="#f8aba9"/>
<rect x="486" y="527.8" width="1" height="3.2" fill="#f8aba9"/>
<rect x="487" y="527.4" width="1" height="3.6" fill="#f8aba9"/>
<rect x="488" y="527.6" width="1" height="3.4" fill="#f8aba9"/>
<rect x="489" y="527.7" width="1" height="3.3" fill="#93d2cc"/>
<rect x="490" y="529.8" width="1" height="1.2" fill="#f8aba9"/>
<rect x="491" y="530.0" width="1" height="1.0" fill="#93d2cc"/>
<rect x="492" y="529.2" width="1" height="1.8" fill="#f8aba9"/>
<rect x="493" y="528.8" width="1" height="2.2" fill="#f8aba9"/>
<rect x="494" y="527.2" width="1" height="3.8" fill="#f8aba9"/>
<rect x="495" y="528.2" width="1" height="2.8" fill="#f8aba9"/>
<rect x="496" y="525.1" width="1" height="5.9" fill="#93d2cc"/>
<rect x="497" y="516.5" width="1" height="14.5" fill="#93d2cc"/>
<rect x="498" y="521.1" width="1" height="9.9" fill="#f8aba9"/>
<rect x="499" y="518.8" width="1" height="12.2" fill="#f8aba9"/>
<rect x="500" y="510.2" width="1" height="20.8" fill="#f8aba9"/>
<rect x="501" y="513.7" width="1" height="17.3" fill="#93d2cc"/>
<rect x="502" y="512.7" width="1" height="18.3" fill="#f8aba9"/>
<rect x="503" y="511.7" width="1" height="19.3" fill="#f8aba9"/>
<rect x="504" y="516.9" width="1" height="14.1" fill="#f8aba9"/>
<rect x="505" y="516.4" width="1" height="14.6" fill="#f8aba9"/>
<rect x="506" y="525.7" width="1" height="5.3" fill="#93d2cc"/>
<rect x="507" y="525.7" width="1" height="5.3" fill="#f8aba9"/>
<rect x="508" y="528.9" width="1" height="2.1" fill="#93d2cc"/>
<rect x="509" y="528.9" width="1" height="2.1" fill="#93d2cc"/>
<rect x="510" y="529.2" width="1" height="1.8" fill="#93d2cc"/>
<rect x="511" y="527.5" width="1" height="3.5" fill="#f8aba9"/>
<rect x="512" y="527.7" width="1" height="3.3" fill="#f8aba9"/>
<rect x="513" y="528.5" width="1" height="2.5" fill="#93d2cc"/>
<rect x="514" y="526.9" width="1" height="4.1" fill="#f8aba9"/>
<rect x="515" y="520.4" width="1" height="10.6" fill="#f8aba9"/>
<rect x="516" y="517.2" width="1" height="13.8" fill="#f8aba9"/>
<rect x="517" y="514.4" width="1" height="16.6" fill="#f8aba9"/>
<rect x="518" y="513.5" width="1" height="17.5" fill="#f8aba9"/>
<rect x="519" y="511.1" width="1" height="19.9" fill="#f8aba9"/>
<rect x="520" y="517.5" width="1" height="13.5" fill="#93d2cc"/>
<rect x="521" y="512.6" width="1" height="18.4" fill="#f8aba9"/>
<rect x="522" y="519.8" width="1" height="11.2" fill="#f8aba9"/>
<rect x="523" y="523.7" width="1" height="7.3" fill="#f8aba9"/>
<rect x="524" y="516.9" width="1" height="14.1" fill="#f8aba9"/>
<rect x="525" y="524.2" width="1" height="6.8" fill="#93d2cc"/>
<rect x="526" y="526.0" width="1" height="5.0" fill="#93d2cc"/>
<rect x="527" y="528.5" width="1" height="2.5" fill="#93d2cc"/>
<rect x="528" y="527.8" width="1" height="3.2" fill="#f8aba9"/>
<rect x="529" y="528.9" width="1" height="2.1" fill="#93d2cc"/>
<rect x="530" y="528.3" width="1" height="2.7" fill="#93d2cc"/>
<rect x="531" y="528.7" width="1" height="2.3" fill="#f8aba9"/>
<rect x="532" y="527.8" width="1" height="3.2" fill="#93d2cc"/>
<rect x="533" y="526.9" width="1" height="4.1" fill="#f8aba9"/>
<rect x="534" y="527.8" width="1" height="3.2" fill="#93d2cc"/>
<rect x="535" y="523.8" width="1" height="7.2" fill="#93d2cc"/>
<rect x="536" y="520.4" width="1" height="10.6" fill="#93d2cc"/>
<rect x="537" y="517.8" width="1" height="13.2" fill="#93d2cc"/>
<rect x="538" y="525.5" width="1" height="5.5" fill="#93d2cc"/>
<rect x="539" y="525.7" width="1" height="5.3" fill="#93d2cc"/>
<rect x="540" y="523.4" width="1" height="7.6" fill="#f8aba9"/>
<rect x="541" y="520.2" width="1" height="10.8" fill="#93d2cc"/>
<rect x="542" y="519.7" width="1" height="11.3" fill="#f8aba9"/>
<rect x="543" y="520.8" width="1" height="10.2" fill="#f8aba9"/>
<rect x="544" y="523.8" width="1" height="7.2" fill="#93d2cc"/>
<rect x="545" y="527.9" width="1" height="3.1" fill="#93d2cc"/>
<rect x="546" y="525.3" width="1" height="5.7" fill="#f8aba9"/>
<rect x="547" y="529.4" width="1" height="1.6" fill="#93d2cc"/>
<rect x="548" y="528.2" width="1" height="2.8" fill="#f8aba9"/>
<rect x="549" y="527.4" width="1" height="3.6" fill="#f8aba9"/>
<rect x="550" y="529.6" width="1" height="1.4" fill="#93d2cc"/>
<rect x="551" y="527.2" width="1" height="3.8" fill="#f8aba9"/>
<rect x="552" y="527.9" width="1" height="3.1" fill="#f8aba9"/>
<rect x="553" y="529.4" width="1" height="1.6" fill="#f8aba9"/>
<rect x="554" y="524.5" width="1" height="6.5" fill="#f8aba9"/>
<rect x="555" y="521.7" width="1" height="9.3" fill="#f8aba9"/>
<rect x="556" y="521.4" width="1" height="9.6" fill="#93d2cc"/>
<rect x="557" y="512.6" width="1" height="18.4" fill="#f8aba9"/>
<rect x="558" y="510.9" width="1" height="20.1" fill="#93d2cc"/>
<rect x="559" y="512.9" width="1" height="18.1" fill="#93d2cc"/>
<rect x="560" y="510.8" width="1" height="20.2" fill="#f8aba9"/>
<rect x="561" y="518.3" width="1" height="12.7" fill="#93d2cc"/>
<rect x="562" y="511.9" width="1" height="19.1" fill="#93d2cc"/>
<rect x="563" y="524.6" width="1" height="6.4" fill="#f8aba9"/>
<rect x="564" y="516.5" width="1" height="14.5" fill="#f8aba9"/>
<rect x="565" y="522.3" width="1" height="8.7" fill="#93d2cc"/>
<rect x="566" y="528.1" width="1" height="2.9" fill="#f8aba9"/>
<rect x="567" y="528.2" width="1" height="2.8" fill="#f8aba9"/>
<rect x="568" y="527.0" width="1" height="4.0" fill="#93d2cc"/>
<rect x="569" y="527.5" width="1" height="3.5" fill="#93d2cc"/>
<rect x="570" y="527.5" width="1" height="3.5" fill="#f8aba9"/>
<rect x="571" y="529.2" width="1" height="1.8" fill="#93d2cc"/>
<rect x="572" y="527.6" width="1" height="3.4" fill="#93d2cc"/>
<rect x="573" y="524.1" width="1" height="6.9" fill="#f8aba9"/>
<rect x="574" y="524.9" width="1" height="6.1" fill="#f8aba9"/>
<rect x="575" y="518.7" width="1" height="12.3" fill="#f8aba9"/>
<rect x="576" y="522.1" width="1" height="8.9" fill="#f8aba9"/>
<rect x="577" y="523.8" width="1" height="7.2" fill="#93d2cc"/>
<rect x="578" y="513.7" width="1" height="17.3" fill="#f8aba9"/>
<rect x="579" y="522.3" width="1" height="8.7" fill="#93d2cc"/>
<rect x="580" y="518.2" width="1" height="12.8" fill="#f8aba9"/>
<rect x="581" y="516.2" width="1" height="14.8" fill="#f8aba9"/>
<rect x="582" y="524.6" width="1" height="6.4" fill="#93d2cc"/>
<rect x="583" y="520.1" width="1" height="10.9" fill="#93d2cc"/>
<rect x="584" y="527.5" width="1" height="3.5" fill="#f8aba9"/>
<rect x="585" y="528.4" width="1" height="2.6" fill="#93d2cc"/>
<rect x="586" y="529.2" width="1" height="1.8" fill="#93d2cc"/>
<rect x="587" y="527.1" width="1" height="3.9" fill="#f8aba9"/>
<rect x="588" y="528.5" width="1" height="2.5" fill="#93d2cc"/>
<rect x="589" y="528.2" width="1" height="2.8" fill="#f8aba9"/>
<rect x="590" y="528.3" width="1" height="2.7" fill="#f8aba9"/>
<rect x="591" y="523.6" width="1" height="7.4" fill="#93d2cc"/>
<rect x="592" y="522.2" width="1" height="8.8" fill="#f8aba9"/>
<rect x="593" y="522.2" width="1" height="8.8" fill="#93d2cc"/>
<rect x="594" y="522.0" width="1" height="9.0" fill="#93d2cc"/>
<rect x="595" y="518.4" width="1" height="12.6" fill="#93d2cc"/>
<rect x="596" y="509.0" width="1" height="22.0" fill="#93d2cc"/>
<rect x="597" y="510.5" width="1" height="20.5" fill="#93d2cc"/>
<rect x="598" y="517.2" width="1" height="13.8" fill="#93d2cc"/>
<rect x="599" y="515.2" width="1" height="15.8" fill="#f8aba9"/>
<rect x="600" y="522.9" width="1" height="8.1" fill="#f8aba9"/>
<rect x="601" y="524.3" width="1" height="6.7" fill="#93d2cc"/>
<rect x="602" y="523.4" width="1" height="7.6" fill="#93d2cc"/>
<rect x="603" y="524.2" width="1" height="6.8" fill="#93d2cc"/>
<rect x="604" y="527.9" width="1" height="3.1" fill="#93d2cc"/>
<rect x="605" y="529.0" width="1" height="2.0" fill="#93d2cc"/>
<rect x="606" y="528.2" width="1" height="2.8" fill="#93d2cc"/>
<rect x="607" y="528.3" width="1" height="2.7" fill="#f8aba9"/>
<rect x="608" y="528.2" width="1" height="2.8" fill="#f8aba9"/>
<rect x="609" y="528.2" width="1" height="2.8" fill="#93d2cc"/>
<rect x="610" y="529.2" width="1" height="1.8" fill="#f8aba9"/>
<rect x="611" y="528.0" width="1" height="3.0" fill="#93d2cc"/>
<rect x="612" y="520.9" width="1" height="10.1" fill="#f8aba9"/>
<rect x="613" y="518.3" width="1" height="12.7" fill="#93d2cc"/>
<rect x="614" y="516.9" width="1" height="14.1" fill="#f8aba9"/>
<rect x="615" y="512.8" width="1" height="18.2" fill="#f8aba9"/>
<rect x="616" y="523.2" width="1" height="7.8" fill="#93d2cc"/>
<rect x="617" y="516.6" width="1" height="14.4" fill="#f8aba9"/>
<rect x="618" y="513.5" width="1" height="17.5" fill="#93d2cc"/>
<rect x="619" y="511.2" width="1" height="19.8" fill="#93d2cc"/>
<rect x="620" y="522.9" width="1" height="8.1" fill="#93d2cc"/>
<rect x="621" y="517.9" width="1" height="13.1" fill="#f8aba9"/>
<rect x="622" y="521.3" width="1" height="9.7" fill="#f8aba9"/>
<rect x="623" y="524.8" width="1" height="6.2" fill="#f8aba9"/>
<rect x="624" y="528.6" width="1" height="2.4" fill="#93d2cc"/>
<rect x="625" y="528.0" width="1" height="3.0" fill="#93d2cc"/>
<rect x="626" y="529.2" width="1" height="1.8" fill="#93d2cc"/>
<rect x="627" y="527.2" width="1" height="3.8" fill="#f8aba9"/>
<rect x="628" y="529.5" width="1" height="1.5" fill="#f8aba9"/>
<rect x="629" y="528.1" width="1" height="2.9" fill="#93d2cc"/>
<rect x="630" y="528.1" width="1" height="2.9" fill="#93d2cc"/>
<rect x="631" y="520.7" width="1" height="10.3" fill="#93d2cc"/>
<rect x="632" y="519.2" width="1" height="11.8" fill="#93d2cc"/>
<rect x="633" y="522.8" width="1" height="8.2" fill="#93d2cc"/>
<rect x="634" y="524.9" width="1" height="6.1" fill="#f8aba9"/>
<rect x="635" y="515.0" width="1" height="16.0" fill="#93d2cc"/>
<rect x="636" y="512.9" width="1" height="18.1" fill="#93d2cc"/>
<rect x="637" y="521.7" width="1" height="9.3" fill="#93d2cc"/>
<rect x="638" y="518.5" width="1" height="12.5" fill="#f8aba9"/>
<rect x="639" y="525.5" width="1" height="5.5" fill="#93d2cc"/>
<rect x="640" y="525.9" width="1" height="5.1" fill="#93d2cc"/>
<rect x="641" y="523.1" width="1" height="7.9" fill="#f8aba9"/>
<rect x="642" y="524.7" width="1" height="6.3" fill="#93d2cc"/>
<rect x="643" y="529.0" width="1" height="2.0" fill="#f8aba9"/>
<rect x="644" y="526.7" width="1" height="4.3" fill="#93d2cc"/>
<rect x="645" y="528.7" width="1" height="2.3" fill="#93d2cc"/>
<rect x="646" y="529.7" width="1" height="1.3" fill="#f8aba9"/>
<rect x="647" y="529.3" width="1" height="1.7" fill="#93d2cc"/>
<rect x="648" y="527.4" width="1" height="3.6" fill="#93d2cc"/>
<rect x="649" y="529.5" width="1" height="1.5" fill="#93d2cc"/>
<rect x="650" y="527.7" width="1" height="3.3" fill="#93d2cc"/>
<rect x="651" y="523.0" width="1" height="8.0" fill="#f8aba9"/>
<rect x="652" y="526.7" width="1" height="4.3" fill="#f8aba9"/>
<rect x="653" y="522.3" width="1" height="8.7" fill="#f8aba9"/>
<rect x="654" y="519.4" width="1" height="11.6" fill="#f8aba9"/>
<rect x="655" y="518.1" width="1" height="12.9" fill="#93d2cc"/>
<rect x="656" y="521.2" width="1" height="9.8" fill="#93d2cc"/>
<rect x="657" y="522.1" width="1" height="8.9" fill="#f8aba9"/>
<rect x="658" y="520.0" width="1" height="11.0" fill="#93d2cc"/>
<rect x="659" y="525.8" width="1" height="5.2" fill="#f8aba9"/>
<rect x="660" y="526.9" width="1" height="4.1" fill="#93d2cc"/>
<rect x="661" y="528.1" width="1" height="2.9" fill="#f8aba9"/>
<rect x="662" y="526.8" width="1" height="4.2" fill="#f8aba9"/>
<rect x="663" y="529.4" width="1" height="1.6" fill="#93d2cc"/>
<rect x="664" y="529.6" width="1" height="1.4" fill="#93d2cc"/>
<rect x="665" y="529.3" width="1" height="1.7" fill="#f8aba9"/>
<rect x="666" y="528.7" width="1" height="2.3" fill="#f8aba9"/>
<rect x="667" y="526.7" width="1" height="4.3" fill="#f8aba9"/>
<rect x="668" y="529.3" width="1" height="1.7" fill="#93d2cc"/>
<rect x="669" y="528.7" width="1" height="2.3" fill="#93d2cc"/>
<rect x="670" y="526.6" width="1" height="4.4" fill="#93d2cc"/>
<rect x="671" y="523.7" width="1" height="7.3" fill="#f8aba9"/>
<rect x="672" y="519.8" width="1" height="11.2" fill="#f8aba9"/>
<rect x="673" y="523.6" width="1" height="7.4" fill="#f8aba9"/>
<rect x="674" y="515.0" width="1" height="16.0" fill="#f8aba9"/>
<rect x="675" y="515.9" width="1" height="15.1" fill="#93d2cc"/>
<rect x="676" y="516.1" width="1" height="14.9" fill="#93d2cc"/>
<rect x="677" y="514.2" width="1" height="16.8" fill="#93d2cc"/>
<rect x="678" y="513.9" width="1" height="17.1" fill="#93d2cc"/>
<rect x="679" y="520.5" width="1" height="10.5" fill="#f8aba9"/>
<rect x="680" y="520.2" width="1" height="10.8" fill="#93d2cc"/>
<rect x="681" y="523.5" width="1" height="7.5" fill="#93d2cc"/>
<rect x="682" y="528.4" width="1" height="2.6" fill="#93d2cc"/>
<rect x="683" y="527.2" width="1" height="3.8" fill="#93d2cc"/>
<rect x="684" y="528.3" width="1" height="2.7" fill="#93d2cc"/>
<rect x="685" y="527.6" width="1" height="3.4" fill="#93d2cc"/>
<rect x="686" y="529.5" width="1" height="1.5" fill="#f8aba9"/>
<rect x="687" y="527.7" width="1" height="3.3" fill="#93d2cc"/>
<rect x="688" y="528.2" width="1" height="2.8" fill="#f8aba9"/>
<rect x="689" y="526.8" width="1" height="4.2" fill="#93d2cc"/>
<rect x="690" y="523.5" width="1" height="7.5" fill="#93d2cc"/>
<rect x="691" y="520.7" width="1" height="10.3" fill="#93d2cc"/>
<rect x="692" y="521.3" width="1" height="9.7" fill="#f8aba9"/>
<rect x="693" y="520.2" width="1" height="10.8" fill="#93d2cc"/>
<rect x="694" y="515.5" width="1" height="15.5" fill="#93d2cc"/>
<rect x="695" y="521.0" width="1" height="10.0" fill="#93d2cc"/>
<rect x="696" y="520.4" width="1" height="10.6" fill="#f8aba9"/>
<rect x="697" y="520.2" width="1" height="10.8" fill="#f8aba9"/>
<rect x="698" y="515.1" width="1" height="15.9" fill="#f8aba9"/>
<rect x="699" y="517.0" width="1" height="14.0" fill="#f8aba9"/>
<rect x="700" y="518.4" width="1" height="12.6" fill="#f8aba9"/>
<rect x="701" y="519.9" width="1" height="11.1" fill="#93d2cc"/>
<rect x="702" y="525.0" width="1" height="6.0" fill="#93d2cc"/>
<rect x="703" y="528.1" width="1" height="2.9" fill="#f8aba9"/>
<rect x="704" y="527.0" width="1" height="4.0" fill="#f8aba9"/>
<rect x="705" y="526.5" width="1" height="4.5" fill="#93d2cc"/>
<rect x="706" y="528.3" width="1" height="2.7" fill="#93d2cc"/>
<rect x="707" y="527.1" width="1" height="3.9" fill="#f8aba9"/>
<rect x="708" y="529.8" width="1" height="1.2" fill="#93d2cc"/>
<rect x="709" y="528.5" width="1" height="2.5" fill="#93d2cc"/>
<rect x="710" y="527.8" width="1" height="3.2" fill="#93d2cc"/>
<rect x="711" y="523.5" width="1" height="7.5" fill="#f8aba9"/>
<rect x="712" y="522.3" width="1" height="8.7" fill="#f8aba9"/>
<rect x="713" y="522.8" width="1" height="8.2" fill="#93d2cc"/>
<rect x="714" y="519.5" width="1" height="11.5" fill="#f8aba9"/>
<rect x="715" y="515.8" width="1" height="15.2" fill="#f8aba9"/>
<rect x="716" y="524.5" width="1" height="6.5" fill="#f8aba9"/>
<rect x="717" y="521.4" width="1" height="9.6" fill="#93d2cc"/>
<rect x="718" y="517.1" width="1" height="13.9" fill="#93d2cc"/>
<rect x="719" y="525.7" width="1" height="5.3" fill="#f8aba9"/>
<rect x="720" y="520.7" width="1" height="10.3" fill="#f8aba9"/>
<rect x="721" y="524.7" width="1" height="6.3" fill="#f8aba9"/>
<rect x="722" y="526.9" width="1" height="4.1" fill="#93d2cc"/>
<rect x="723" y="527.3" width="1" height="3.7" fill="#93d2cc"/>
<rect x="724" y="527.7" width="1" height="3.3" fill="#f8aba9"/>
<rect x="725" y="529.0" width="1" height="2.0" fill="#f8aba9"/>
<rect x="726" y="527.7" width="1" height="3.3" fill="#f8aba9"/>
<rect x="727" y="525.3" width="1" height="5.7" fill="#93d2cc"/>
<rect x="728" y="526.6" width="1" height="4.4" fill="#f8aba9"/>
<rect x="729" y="518.5" width="1" height="12.5" fill="#93d2cc"/>
<rect x="730" y="518.7" width="1" height="12.3" fill="#93d2cc"/>
<rect x="731" y="515.7" width="1" height="15.3" fill="#93d2cc"/>
<rect x="732" y="519.9" width="1" height="11.1" fill="#93d2cc"/>
<rect x="733" y="512.9" width="1" height="18.1" fill="#f8aba9"/>
<rect x="734" y="517.9" width="1" height="13.1" fill="#f8aba9"/>
<rect x="735" y="524.5" width="1" height="6.5" fill="#93d2cc"/>
<rect x="736" y="516.6" width="1" height="14.4" fill="#93d2cc"/>
<rect x="737" y="524.2" width="1" height="6.8" fill="#f8aba9"/>
<rect x="738" y="520.8" width="1" height="10.2" fill="#93d2cc"/>
<rect x="739" y="527.2" width="1" height="3.8" fill="#93d2cc"/>
<rect x="740" y="527.1" width="1" height="3.9" fill="#f8aba9"/>
<rect x="741" y="526.7" width="1" height="4.3" fill="#93d2cc"/>
<rect x="742" y="527.7" width="1" height="3.3" fill="#f8aba9"/>
<rect x="743" y="527.3" width="1" height="3.7" fill="#93d2cc"/>
<rect x="744" y="527.7" width="1" height="3.3" fill="#93d2cc"/>
<rect x="745" y="527.1" width="1" height="3.9" fill="#93d2cc"/>
<rect x="746" y="529.1" width="1" height="1.9" fill="#f8aba9"/>
<rect x="747" y="526.8" width="1" height="4.2" fill="#93d2cc"/>
<rect x="748" y="525.4" width="1" height="5.6" fill="#f8aba9"/>
<rect x="749" y="525.4" width="1" height="5.6" fill="#f8aba9"/>
<rect x="750" y="513.4" width="1" height="17.6" fill="#f8aba9"/>
<rect x="751" y="511.6" width="1" height="19.4" fill="#f8aba9"/>
<rect x="752" y="518.9" width="1" height="12.1" fill="#f8aba9"/>
<rect x="753" y="510.5" width="1" height="20.5" fill="#f8aba9"/>
<rect x="754" y="518.4" width="1" height="12.6" fill="#f8aba9"/>
<rect x="755" y="520.4" width="1" height="10.6" fill="#93d2cc"/>
<rect x="756" y="520.6" width="1" height="10.4" fill="#93d2cc"/>
<rect x="757" y="521.2" width="1" height="9.8" fill="#f8aba9"/>
<rect x="758" y="525.6" width="1" height="5.4" fill="#f8aba9"/>
<rect x="759" y="525.9" width="1" height="5.1" fill="#f8aba9"/>
<rect x="760" y="529.5" width="1" height="1.5" fill="#93d2cc"/>
<rect x="761" y="526.9" width="1" height="4.1" fill="#93d2cc"/>
<rect x="762" y="526.8" width="1" height="4.2" fill="#93d2cc"/>
<rect x="763" y="526.9" width="1" height="4.1" fill="#f8aba9"/>
<rect x="764" y="528.4" width="1" height="2.6" fill="#f8aba9"/>
<rect x="765" y="526.7" width="1" height="4.3" fill="#f8aba9"/>
<rect x="766" y="528.0" width="1" height="3.0" fill="#93d2cc"/>
<rect x="767" y="523.9" width="1" height="7.1" fill="#93d2cc"/>
<rect x="768" y="524.8" width="1" height="6.2" fill="#f8aba9"/>
<rect x="769" y="522.6" width="1" height="8.4" fill="#93d2cc"/>
<rect x="770" y="514.6" width="1" height="16.4" fill="#93d2cc"/>
<rect x="771" y="521.3" width="1" height="9.7" fill="#93d2cc"/>
<rect x="772" y="516.9" width="1" height="14.1" fill="#93d2cc"/>
<rect x="773" y="514.1" width="1" height="16.9" fill="#f8aba9"/>
<rect x="774" y="518.5" width="1" height="12.5" fill="#93d2cc"/>
<rect x="775" y="519.2" width="1" height="11.8" fill="#93d2cc"/>
<rect x="776" y="516.7" width="1" height="14.3" fill="#93d2cc"/>
<rect x="777" y="519.6" width="1" height="11.4" fill="#93d2cc"/>
<rect x="778" y="520.4" width="1" height="10.6" fill="#93d2cc"/>
<rect x="779" y="524.0" width="1" height="7.0" fill="#93d2cc"/>
<rect x="780" y="527.7" width="1" height="3.3" fill="#93d2cc"/>
<rect x="781" y="529.3" width="1" height="1.7" fill="#f8aba9"/>
<rect x="782" y="529.3" width="1" height="1.7" fill="#93d2cc"/>
<rect x="783" y="529.0" width="1" height="2.0" fill="#f8aba9"/>
<rect x="784" y="527.5" width="1" height="3.5" fill="#93d2cc"/>
<rect x="785" y="526.6" width="1" height="4.4" fill="#93d2cc"/>
<rect x="786" y="526.8" width="1" height="4.2" fill="#93d2cc"/>
<rect x="787" y="519.9" width="1" height="11.1" fill="#93d2cc"/>
<rect x="788" y="522.8" width="1" height="8.2" fill="#f8aba9"/>
<rect x="789" y="521.3" width="1" height="9.7" fill="#93d2cc"/>
<rect x="790" y="521.9" width="1" height="9.1" fill="#93d2cc"/>
<rect x="791" y="515.5" width="1" height="15.5" fill="#f8aba9"/>
<rect x="792" y="511.7" width="1" height="19.3" fill="#93d2cc"/>
<rect x="793" y="521.4" width="1" height="9.6" fill="#f8aba9"/>
<rect x="794" y="517.7" width="1" height="13.3" fill="#f8aba9"/>
<rect x="795" y="522.9" width="1" height="8.1" fill="#f8aba9"/>
<rect x="796" y="523.4" width="1" height="7.6" fill="#f8aba9"/>
<rect x="797" y="525.9" width="1" height="5.1" fill="#93d2cc"/>
<rect x="798" y="526.5" width="1" height="4.5" fill="#f8aba9"/>
<rect x="799" y="529.2" width="1" height="1.8" fill="#93d2cc"/>
<rect x="800" y="529.3" width="1" height="1.7" fill="#93d2cc"/>
<rect x="801" y="529.6" width="1" height="1.4" fill="#f8aba9"/>
<rect x="802" y="528.0" width="1" height="3.0" fill="#93d2cc"/>
<rect x="803" y="527.4" width="1" height="3.6" fill="#f8aba9"/>
<rect x="804" y="526.7" width="1" height="4.3" fill="#f8aba9"/>
<rect x="805" y="521.2" width="1" height="9.8" fill="#93d2cc"/>
<rect x="806" y="519.9" width="1" height="11.1" fill="#f8aba9"/>
<rect x="807" y="519.0" width="1" height="12.0" fill="#f8aba9"/>
<rect x="808" y="509.7" width="1" height="21.3" fill="#93d2cc"/>
<rect x="809" y="515.3" width="1" height="15.7" fill="#f8aba9"/>
<rect x="810" y="521.7" width="1" height="9.3" fill="#93d2cc"/>
<rect x="811" y="520.9" width="1" height="10.1" fill="#93d2cc"/>
<rect x="812" y="512.6" width="1" height="18.4" fill="#93d2cc"/>
<rect x="813" y="516.3" width="1" height="14.7" fill="#93d2cc"/>
<rect x="814" y="521.3" width="1" height="9.7" fill="#93d2cc"/>
<rect x="815" y="519.7" width="1" height="11.3" fill="#f8aba9"/>
<rect x="816" y="524.3" width="1" height="6.7" fill="#f8aba9"/>
<rect x="817" y="527.0" width="1" height="4.0" fill="#93d2cc"/>
<rect x="818" y="527.2" width="1" height="3.8" fill="#f8aba9"/>
<rect x="819" y="528.9" width="1" height="2.1" fill="#f8aba9"/>
<rect x="820" y="528.0" width="1" height="3.0" fill="#f8aba9"/>
<rect x="821" y="529.7" width="1" height="1.3" fill="#f8aba9"/>
<rect x="822" y="528.3" width="1" height="2.7" fill="#f8aba9"/>
<rect x="823" y="528.4" width="1" height="2.6" fill="#93d2cc"/>
<rect x="824" y="527.4" width="1" height="3.6" fill="#93d2cc"/>
<rect x="825" y="529.2" width="1" height="1.8" fill="#f8aba9"/>
<rect x="826" y="526.8" width="1" height="4.2" fill="#f8aba9"/>
<rect x="827" y="526.3" width="1" height="4.7" fill="#f8aba9"/>
<rect x="828" y="522.4" width="1" height="8.6" fill="#f8aba9"/>
<rect x="829" y="524.4" width="1" height="6.6" fill="#f8aba9"/>
<rect x="830" y="526.9" width="1" height="4.1" fill="#93d2cc"/>
<rect x="831" y="519.5" width="1" height="11.5" fill="#93d2cc"/>
<rect x="832" y="519.7" width="1" height="11.3" fill="#93d2cc"/>
<rect x="833" y="527.2" width="1" height="3.8" fill="#93d2cc"/>
<rect x="834" y="526.5" width="1" height="4.5" fill="#f8aba9"/>
<rect x="835" y="524.0" width="1" height="7.0" fill="#f8aba9"/>
<rect x="836" y="527.4" width="1" height="3.6" fill="#93d2cc"/>
<rect x="837" y="527.5" width="1" height="3.5" fill="#93d2cc"/>
<rect x="838" y="529.7" width="1" height="1.3" fill="#f8aba9"/>
<rect x="839" y="528.4" width="1" height="2.6" fill="#f8aba9"/>
<rect x="840" y="527.6" width="1" height="3.4" fill="#93d2cc"/>
<rect x="841" y="529.4" width="1" height="1.6" fill="#93d2cc"/>
<rect x="842" y="528.5" width="1" height="2.5" fill="#f8aba9"/>
<rect x="843" y="526.4" width="1" height="4.6" fill="#f8aba9"/>
<rect x="844" y="523.4" width="1" height="7.6" fill="#93d2cc"/>
<rect x="845" y="517.6" width="1" height="13.4" fill="#f8aba9"/>
<rect x="846" y="517.9" width="1" height="13.1" fill="#93d2cc"/>
<rect x="847" y="515.9" width="1" height="15.1" fill="#93d2cc"/>
<rect x="848" y="524.3" width="1" height="6.7" fill="#f8aba9"/>
<rect x="849" y="518.1" width="1" height="12.9" fill="#93d2cc"/>
<rect x="850" y="522.4" width="1" height="8.6" fill="#f8aba9"/>
<rect x="851" y="522.5" width="1" height="8.5" fill="#f8aba9"/>
<rect x="852" y="523.0" width="1" height="8.0" fill="#93d2cc"/>
<rect x="853" y="524.3" width="1" height="6.7" fill="#93d2cc"/>
<rect x="854" y="522.6" width="1" height="8.4" fill="#f8aba9"/>
<rect x="855" y="527.7" width="1" height="3.3" fill="#93d2cc"/>
<rect x="856" y="528.6" width="1" height="2.4" fill="#93d2cc"/>
<rect x="857" y="529.0" width="1" height="2.0" fill="#93d2cc"/>
<rect x="858" y="528.7" width="1" height="2.3" fill="#f8aba9"/>
<rect x="859" y="529.1" width="1" height="1.9" fill="#93d2cc"/>
<rect x="860" y="527.7" width="1" height="3.3" fill="#f8aba9"/>
<rect x="861" y="528.8" width="1" height="2.2" fill="#93d2cc"/>
<rect x="862" y="520.8" width="1" height="10.2" fill="#93d2cc"/>
<rect x="863" y="524.2" width="1" height="6.8" fill="#f8aba9"/>
<rect x="864" y="520.6" width="1" height="10.4" fill="#f8aba9"/>
<rect x="865" y="511.1" width="1" height="19.9" fill="#93d2cc"/>
<rect x="866" y="508.0" width="1" height="23.0" fill="#93d2cc"/>
<rect x="867" y="518.6" width="1" height="12.4" fill="#93d2cc"/>
<rect x="868" y="508.7" width="1" height="22.3" fill="#93d2cc"/>
<rect x="869" y="519.4" width="1" height="11.6" fill="#93d2cc"/>
<rect x="870" y="503.8" width="1" height="27.2" fill="#93d2cc"/>
<rect x="871" y="521.0" width="1" height="10.0" fill="#93d2cc"/>
<rect x="872" y="513.6" width="1" height="17.4" fill="#93d2cc"/>
<rect x="873" y="523.0" width="1" height="8.0" fill="#f8aba9"/>
<rect x="874" y="521.8" width="1" height="9.2" fill="#f8aba9"/>
<rect x="17" y="485.5" width="1" height="45.5" fill="#93d2cc"/>
<rect x="35" y="489" width="1" height="42" fill="#f8aba9"/>
<rect x="90" y="499.6" width="1" height="31.399999999999977" fill="#93d2cc"/>
<rect x="115" y="440" width="1" height="91" fill="#93d2cc"/>
<rect x="131" y="430" width="1" height="101" fill="#93d2cc"/>
<rect x="129" y="457" width="1" height="74" fill="#93d2cc"/>
<rect x="153" y="478.6" width="1" height="52.39999999999998" fill="#f8aba9"/>
<rect x="168" y="460" width="1" height="71" fill="#f8aba9"/>
<rect x="173" y="399" width="1" height="132" fill="#93d2cc"/>
<rect x="191" y="435" width="1" height="96" fill="#93d2cc"/>
<rect x="207" y="408" width="1" height="123" fill="#93d2cc"/>
<rect x="209" y="440.6" width="1" height="90.39999999999998" fill="#f8aba9"/>
<rect x="245" y="482" width="1" height="49" fill="#93d2cc"/>
<rect x="250" y="478.6" width="1" height="52.39999999999998" fill="#f8aba9"/>
<rect x="270" y="488" width="1" height="43" fill="#93d2cc"/>
<rect x="273" y="405" width="1" height="126" fill="#f8aba9"/>
<rect x="310" y="485" width="1" height="46" fill="#93d2cc"/>
<rect x="390" y="477" width="1" height="54" fill="#93d2cc"/>
<rect x="500" y="475" width="1" height="56" fill="#f8aba9"/>
<rect x="539" y="485.5" width="1" height="45.5" fill="#93d2cc"/>
<rect x="618" y="503" width="1" height="28" fill="#93d2cc"/>
<rect x="711" y="495" width="1" height="36" fill="#f8aba9"/>
<rect x="796" y="507" width="1" height="24" fill="#93d2cc"/>
<rect x="832" y="500" width="1" height="31" fill="#f8aba9"/>
<rect x="866" y="494" width="1" height="37" fill="#93d2cc"/>
<rect x="872" y="499" width="1" height="32" fill="#93d2cc"/>
</g>
<g>
<rect x="0.00" y="428.7" width="0.8" height="12.3" fill="#26a69a"/>
<rect x="0.81" y="427.0" width="0.8" height="9.1" fill="#26a69a"/>
<rect x="1.62" y="428.6" width="0.8" height="3.8" fill="#26a69a"/>
<rect x="2.43" y="430.9" width="0.8" height="6.8" fill="#ef5350"/>
<rect x="3.24" y="434.6" width="0.8" height="11.4" fill="#ef5350"/>
<rect x="4.05" y="437.3" width="0.8" height="4.3" fill="#26a69a"/>
<rect x="4.86" y="434.0" width="0.8" height="4.4" fill="#26a69a"/>
<rect x="5.67" y="434.7" width="0.8" height="4.6" fill="#ef5350"/>
<rect x="6.48" y="438.1" width="0.8" height="2.6" fill="#ef5350"/>
<rect x="7.29" y="439.4" width="0.8" height="1.9" fill="#ef5350"/>
<rect x="8.10" y="437.4" width="0.8" height="5.2" fill="#ef5350"/>
<rect x="8.91" y="436.6" width="0.8" height="5.5" fill="#26a69a"/>
<rect x="9.72" y="438.1" width="0.8" height="3.4" fill="#26a69a"/>
<rect x="10.53" y="436.8" width="0.8" height="6.8" fill="#26a69a"/>
<rect x="11.34" y="429.0" width="0.8" height="9.7" fill="#26a69a"/>
<rect x="12.15" y="436.6" width="0.8" height="3.9" fill="#ef5350"/>
<rect x="12.96" y="437.5" width="0.8" height="16.5" fill="#ef5350"/>
<rect x="13.77" y="424.7" width="0.8" height="23.3" fill="#26a69a"/>
<rect x="14.58" y="417.0" width="0.8" height="31.0" fill="#ef5350"/>
<rect x="15.39" y="426.6" width="0.8" height="12.5" fill="#ef5350"/>
<rect x="16.20" y="413.1" width="0.8" height="22.2" fill="#26a69a"/>
<rect x="17.01" y="385.0" width="0.8" height="33.1" fill="#26a69a"/>
<rect x="17.82" y="399.9" width="0.8" height="12.9" fill="#26a69a"/>
<rect x="18.63" y="397.3" width="0.8" height="7.7" fill="#26a69a"/>
<rect x="19.44" y="393.7" width="0.8" height="8.4" fill="#26a69a"/>
<rect x="20.25" y="398.5" width="0.8" height="18.5" fill="#26a69a"/>
<rect x="21.06" y="393.7" width="0.8" height="15.2" fill="#ef5350"/>
<rect x="21.87" y="406.8" width="0.8" height="14.9" fill="#ef5350"/>
<rect x="22.68" y="415.7" width="0.8" height="11.3" fill="#ef5350"/>
<rect x="23.49" y="415.0" width="0.8" height="7.5" fill="#ef5350"/>
<rect x="24.30" y="418.2" width="0.8" height="6.2" fill="#26a69a"/>
<rect x="25.11" y="418.4" width="0.8" height="1.2" fill="#ef5350"/>
<rect x="25.92" y="412.6" width="0.8" height="11.8" fill="#26a69a"/>
<rect x="26.73" y="417.2" width="0.8" height="6.3" fill="#ef5350"/>
<rect x="27.54" y="419.8" width="0.8" height="1.8" fill="#26a69a"/>
<rect x="28.35" y="419.3" width="0.8" height="5.1" fill="#ef5350"/>
<rect x="29.16" y="419.6" width="0.8" height="3.3" fill="#26a69a"/>
<rect x="29.97" y="416.9" width="0.8" height="5.1" fill="#26a69a"/>
<rect x="30.78" y="415.3" width="0.8" height="3.4" fill="#26a69a"/>
<rect x="31.59" y="415.6" width="0.8" height="1.2" fill="#ef5350"/>
<rect x="32.40" y="414.0" width="0.8" height="3.8" fill="#26a69a"/>
<rect x="33.21" y="412.6" width="0.8" height="5.3" fill="#26a69a"/>
<rect x="34.02" y="414.7" width="0.8" height="2.4" fill="#ef5350"/>
<rect x="34.83" y="412.6" width="0.8" height="6.8" fill="#ef5350"/>
<rect x="35.64" y="416.3" width="0.8" height="11.5" fill="#ef5350"/>
<rect x="36.45" y="417.0" width="0.8" height="33.5" fill="#ef5350"/>
<rect x="37.26" y="420.2" width="0.8" height="9.1" fill="#26a69a"/>
<rect x="38.07" y="421.9" width="0.8" height="1.8" fill="#26a69a"/>
<rect x="38.88" y="418.5" width="0.8" height="7.2" fill="#ef5350"/>
<rect x="39.69" y="424.8" width="0.8" height="5.1" fill="#ef5350"/>
<rect x="40.50" y="423.7" width="0.8" height="7.0" fill="#26a69a"/>
<rect x="41.31" y="423.2" width="0.8" height="6.1" fill="#ef5350"/>
<rect x="42.12" y="422.0" width="0.8" height="7.6" fill="#ef5350"/>
<rect x="42.93" y="427.1" width="0.8" height="6.7" fill="#ef5350"/>
<rect x="43.74" y="422.9" width="0.8" height="11.1" fill="#26a69a"/>
<rect x="44.55" y="420.2" width="0.8" height="5.8" fill="#26a69a"/>
<rect x="45.36" y="420.0" width="0.8" height="9.6" fill="#ef5350"/>
<rect x="46.17" y="418.5" width="0.8" height="9.3" fill="#ef5350"/>
<rect x="46.98" y="423.2" width="0.8" height="7.2" fill="#ef5350"/>
<rect x="47.79" y="427.5" width="0.8" height="7.0" fill="#ef5350"/>
<rect x="48.60" y="424.4" width="0.8" height="16.1" fill="#ef5350"/>
<rect x="49.41" y="436.4" width="0.8" height="2.4" fill="#ef5350"/>
<rect x="50.22" y="431.9" width="0.8" height="13.8" fill="#ef5350"/>
<rect x="51.03" y="435.3" width="0.8" height="3.6" fill="#ef5350"/>
<rect x="51.84" y="435.3" width="0.8" height="9.9" fill="#ef5350"/>
<rect x="52.65" y="429.2" width="0.8" height="10.2" fill="#26a69a"/>
<rect x="53.46" y="428.3" width="0.8" height="6.4" fill="#26a69a"/>
<rect x="54.27" y="428.9" width="0.8" height="5.9" fill="#ef5350"/>
<rect x="55.08" y="429.2" width="0.8" height="5.6" fill="#ef5350"/>
<rect x="55.89" y="429.6" width="0.8" height="5.1" fill="#26a69a"/>
<rect x="56.70" y="423.2" width="0.8" height="8.6" fill="#26a69a"/>
<rect x="57.51" y="423.0" width="0.8" height="7.8" fill="#ef5350"/>
<rect x="58.32" y="428.7" width="0.8" height="9.9" fill="#ef5350"/>
<rect x="59.13" y="433.1" width="0.8" height="7.3" fill="#ef5350"/>
<rect x="59.94" y="438.1" width="0.8" height="2.3" fill="#ef5350"/>
<rect x="60.75" y="438.8" width="0.8" height="6.1" fill="#ef5350"/>
<rect x="61.56" y="441.8" width="0.8" height="5.2" fill="#ef5350"/>
<rect x="62.37" y="438.6" width="0.8" height="6.1" fill="#ef5350"/>
<rect x="63.18" y="441.8" width="0.8" height="3.2" fill="#26a69a"/>
<rect x="63.99" y="438.7" width="0.8" height="5.0" fill="#26a69a"/>
<rect x="64.80" y="438.6" width="0.8" height="3.7" fill="#26a69a"/>
<rect x="65.61" y="440.1" width="0.8" height="4.1" fill="#ef5350"/>
<rect x="66.42" y="442.2" width="0.8" height="1.5" fill="#ef5350"/>
<rect x="67.23" y="442.8" width="0.8" height="1.6" fill="#ef5350"/>
<rect x="68.04" y="440.8" width="0.8" height="3.3" fill="#ef5350"/>
<rect x="68.85" y="437.5" width="0.8" height="7.2" fill="#26a69a"/>
<rect x="69.66" y="442.1" width="0.8" height="12.9" fill="#26a69a"/>
<rect x="70.47" y="440.4" width="0.8" height="7.1" fill="#ef5350"/>
<rect x="71.28" y="447.4" width="0.8" height="22.3" fill="#ef5350"/>
<rect x="72.09" y="463.1" width="0.8" height="22.9" fill="#ef5350"/>
<rect x="72.90" y="455.0" width="0.8" height="18.3" fill="#26a69a"/>
<rect x="73.71" y="467.0" width="0.8" height="10.4" fill="#ef5350"/>
<rect x="74.52" y="475.8" width="0.8" height="5.3" fill="#ef5350"/>
<rect x="75.33" y="478.1" width="0.8" height="4.6" fill="#ef5350"/>
<rect x="76.14" y="480.0" width="0.8" height="5.5" fill="#ef5350"/>
<rect x="76.95" y="483.0" width="0.8" height="2.9" fill="#ef5350"/>
<rect x="77.76" y="479.0" width="0.8" height="5.8" fill="#26a69a"/>
<rect x="78.57" y="473.0" width="0.8" height="12.0" fill="#26a69a"/>
<rect x="79.38" y="473.5" width="0.8" height="5.8" fill="#26a69a"/>
<rect x="80.19" y="473.4" width="0.8" height="5.8" fill="#26a69a"/>
<rect x="81.00" y="473.0" width="0.8" height="13.6" fill="#ef5350"/>
<rect x="81.81" y="476.9" width="0.8" height="4.3" fill="#ef5350"/>
<rect x="82.62" y="474.5" width="0.8" height="7.6" fill="#26a69a"/>
<rect x="83.43" y="476.1" width="0.8" height="4.6" fill="#26a69a"/>
<rect x="84.24" y="477.1" width="0.8" height="6.4" fill="#ef5350"/>
<rect x="85.05" y="475.4" width="0.8" height="7.9" fill="#26a69a"/>
<rect x="85.86" y="477.5" width="0.8" height="3.4" fill="#ef5350"/>
<rect x="86.67" y="479.6" width="0.8" height="2.1" fill="#ef5350"/>
<rect x="87.48" y="478.3" width="0.8" height="8.3" fill="#ef5350"/>
<rect x="88.29" y="477.9" width="0.8" height="6.1" fill="#26a69a"/>
<rect x="89.10" y="443.0" width="0.8" height="35.8" fill="#26a69a"/>
<rect x="89.91" y="459.0" width="0.8" height="41.0" fill="#ef5350"/>
<rect x="90.72" y="456.5" width="0.8" height="32.6" fill="#ef5350"/>
<rect x="91.53" y="472.6" width="0.8" height="14.0" fill="#26a69a"/>
<rect x="92.34" y="475.6" width="0.8" height="5.4" fill="#ef5350"/>
<rect x="93.15" y="477.1" width="0.8" height="7.7" fill="#ef5350"/>
<rect x="93.96" y="478.9" width="0.8" height="3.9" fill="#ef5350"/>
<rect x="94.77" y="470.0" width="0.8" height="13.2" fill="#26a69a"/>
<rect x="95.58" y="472.9" width="0.8" height="8.7" fill="#26a69a"/>
<rect x="96.39" y="474.9" width="0.8" height="7.2" fill="#ef5350"/>
<rect x="97.20" y="476.5" width="0.8" height="5.7" fill="#ef5350"/>
<rect x="98.01" y="477.1" width="0.8" height="6.5" fill="#26a69a"/>
<rect x="98.82" y="477.2" width="0.8" height="5.4" fill="#ef5350"/>
<rect x="99.63" y="475.3" width="0.8" height="8.6" fill="#ef5350"/>
<rect x="100.44" y="470.0" width="0.8" height="13.3" fill="#26a69a"/>
<rect x="101.25" y="473.6" width="0.8" height="7.4" fill="#26a69a"/>
<rect x="102.06" y="471.8" width="0.8" height="3.9" fill="#ef5350"/>
<rect x="102.87" y="473.9" width="0.8" height="2.9" fill="#ef5350"/>
<rect x="103.68" y="472.6" width="0.8" height="3.8" fill="#26a69a"/>
<rect x="104.49" y="472.4" width="0.8" height="2.5" fill="#26a69a"/>
<rect x="105.30" y="471.4" width="0.8" height="3.8" fill="#26a69a"/>
<rect x="106.11" y="472.1" width="0.8" height="1.3" fill="#ef5350"/>
<rect x="106.92" y="471.7" width="0.8" height="2.8" fill="#ef5350"/>
<rect x="107.73" y="470.0" width="0.8" height="8.2" fill="#ef5350"/>
<rect x="108.54" y="468.7" width="0.8" height="9.3" fill="#26a69a"/>
<rect x="109.35" y="455.0" width="0.8" height="21.3" fill="#26a69a"/>
<rect x="110.16" y="465.2" width="0.8" height="12.8" fill="#ef5350"/>
<rect x="110.97" y="466.2" width="0.8" height="11.8" fill="#26a69a"/>
<rect x="111.78" y="467.8" width="0.8" height="4.0" fill="#26a69a"/>
<rect x="112.59" y="463.9" width="0.8" height="12.5" fill="#26a69a"/>
<rect x="113.40" y="461.3" width="0.8" height="10.0" fill="#ef5350"/>
<rect x="114.21" y="459.0" width="0.8" height="22.0" fill="#ef5350"/>
<rect x="115.02" y="395.0" width="0.8" height="74.6" fill="#26a69a"/>
<rect x="115.83" y="423.6" width="0.8" height="16.1" fill="#ef5350"/>
<rect x="116.64" y="361.0" width="0.8" height="72.9" fill="#26a69a"/>
<rect x="117.45" y="376.0" width="0.8" height="15.7" fill="#26a69a"/>
<rect x="118.26" y="376.0" width="0.8" height="7.0" fill="#ef5350"/>
<rect x="119.07" y="373.6" width="0.8" height="6.4" fill="#26a69a"/>
<rect x="119.88" y="377.1" width="0.8" height="2.9" fill="#ef5350"/>
<rect x="120.69" y="372.9" width="0.8" height="6.6" fill="#26a69a"/>
<rect x="121.50" y="370.1" width="0.8" height="8.3" fill="#ef5350"/>
<rect x="122.31" y="369.0" width="0.8" height="8.1" fill="#26a69a"/>
<rect x="123.12" y="371.2" width="0.8" height="4.0" fill="#26a69a"/>
<rect x="123.93" y="371.7" width="0.8" height="5.7" fill="#ef5350"/>
<rect x="124.74" y="362.2" width="0.8" height="25.8" fill="#26a69a"/>
<rect x="125.55" y="361.0" width="0.8" height="18.5" fill="#26a69a"/>
<rect x="126.36" y="368.1" width="0.8" height="12.0" fill="#ef5350"/>
<rect x="127.17" y="369.4" width="0.8" height="9.1" fill="#ef5350"/>
<rect x="127.98" y="369.1" width="0.8" height="11.7" fill="#26a69a"/>
<rect x="128.79" y="304.9" width="0.8" height="68.7" fill="#26a69a"/>
<rect x="129.60" y="302.7" width="0.8" height="63.3" fill="#ef5350"/>
<rect x="130.41" y="346.6" width="0.8" height="9.2" fill="#ef5350"/>
<rect x="131.22" y="292.4" width="0.8" height="61.5" fill="#26a69a"/>
<rect x="132.03" y="280.1" width="0.8" height="17.1" fill="#26a69a"/>
<rect x="132.84" y="249.0" width="0.8" height="34.0" fill="#26a69a"/>
<rect x="133.65" y="256.8" width="0.8" height="15.2" fill="#26a69a"/>
<rect x="134.46" y="252.0" width="0.8" height="13.4" fill="#26a69a"/>
<rect x="135.27" y="258.1" width="0.8" height="5.0" fill="#26a69a"/>
<rect x="136.08" y="260.4" width="0.8" height="16.3" fill="#ef5350"/>
<rect x="136.89" y="268.9" width="0.8" height="7.2" fill="#ef5350"/>
<rect x="137.70" y="263.0" width="0.8" height="20.0" fill="#26a69a"/>
<rect x="138.51" y="269.9" width="0.8" height="6.5" fill="#ef5350"/>
<rect x="139.32" y="269.5" width="0.8" height="4.5" fill="#26a69a"/>
<rect x="140.13" y="269.3" width="0.8" height="13.7" fill="#ef5350"/>
<rect x="140.94" y="275.4" width="0.8" height="15.0" fill="#ef5350"/>
<rect x="141.75" y="280.0" width="0.8" height="12.0" fill="#ef5350"/>
<rect x="142.56" y="285.2" width="0.8" height="17.5" fill="#ef5350"/>
<rect x="143.37" y="292.7" width="0.8" height="3.2" fill="#26a69a"/>
<rect x="144.18" y="288.6" width="0.8" height="11.1" fill="#ef5350"/>
<rect x="144.99" y="291.7" width="0.8" height="11.6" fill="#ef5350"/>
<rect x="145.80" y="288.6" width="0.8" height="13.5" fill="#26a69a"/>
<rect x="146.61" y="296.7" width="0.8" height="20.1" fill="#26a69a"/>
<rect x="147.42" y="296.8" width="0.8" height="7.8" fill="#ef5350"/>
<rect x="148.23" y="294.3" width="0.8" height="14.0" fill="#ef5350"/>
<rect x="149.04" y="303.6" width="0.8" height="16.8" fill="#ef5350"/>
<rect x="149.85" y="310.8" width="0.8" height="25.7" fill="#ef5350"/>
<rect x="150.66" y="315.2" width="0.8" height="5.7" fill="#ef5350"/>
<rect x="151.47" y="312.9" width="0.8" height="8.4" fill="#26a69a"/>
<rect x="152.28" y="314.9" width="0.8" height="3.5" fill="#26a69a"/>
<rect x="153.09" y="274.5" width="0.8" height="53.5" fill="#ef5350"/>
<rect x="153.90" y="298.1" width="0.8" height="29.9" fill="#26a69a"/>
<rect x="154.71" y="297.0" width="0.8" height="14.5" fill="#ef5350"/>
<rect x="155.52" y="304.5" width="0.8" height="12.2" fill="#ef5350"/>
<rect x="156.33" y="300.9" width="0.8" height="21.1" fill="#26a69a"/>
<rect x="157.14" y="297.0" width="0.8" height="13.7" fill="#ef5350"/>
<rect x="157.95" y="307.0" width="0.8" height="6.6" fill="#ef5350"/>
<rect x="158.76" y="309.4" width="0.8" height="11.4" fill="#26a69a"/>
<rect x="159.57" y="287.6" width="0.8" height="22.4" fill="#26a69a"/>
<rect x="160.38" y="288.0" width="0.8" height="9.0" fill="#26a69a"/>
<rect x="161.19" y="286.9" width="0.8" height="7.2" fill="#26a69a"/>
<rect x="162.00" y="285.2" width="0.8" height="10.0" fill="#ef5350"/>
<rect x="162.81" y="285.5" width="0.8" height="9.0" fill="#ef5350"/>
<rect x="163.62" y="288.1" width="0.8" height="2.5" fill="#26a69a"/>
<rect x="164.43" y="288.1" width="0.8" height="8.9" fill="#ef5350"/>
<rect x="165.24" y="290.1" width="0.8" height="6.9" fill="#26a69a"/>
<rect x="166.05" y="284.2" width="0.8" height="10.0" fill="#26a69a"/>
<rect x="166.86" y="280.0" width="0.8" height="8.9" fill="#26a69a"/>
<rect x="167.67" y="272.8" width="0.8" height="15.8" fill="#26a69a"/>
<rect x="168.48" y="261.1" width="0.8" height="27.5" fill="#26a69a"/>
<rect x="169.29" y="255.6" width="0.8" height="29.7" fill="#ef5350"/>
<rect x="170.10" y="271.5" width="0.8" height="8.5" fill="#26a69a"/>
<rect x="170.91" y="252.0" width="0.8" height="32.0" fill="#ef5350"/>
<rect x="171.72" y="256.4" width="0.8" height="22.7" fill="#26a69a"/>
<rect x="172.53" y="265.0" width="0.8" height="10.8" fill="#ef5350"/>
<rect x="173.34" y="237.5" width="0.8" height="29.5" fill="#26a69a"/>
<rect x="174.15" y="204.0" width="0.8" height="37.3" fill="#26a69a"/>
<rect x="174.96" y="215.7" width="0.8" height="13.0" fill="#26a69a"/>
<rect x="175.77" y="218.6" width="0.8" height="10.4" fill="#ef5350"/>
<rect x="176.58" y="219.1" width="0.8" height="9.9" fill="#ef5350"/>
<rect x="177.39" y="218.6" width="0.8" height="6.1" fill="#26a69a"/>
<rect x="178.20" y="207.0" width="0.8" height="20.6" fill="#26a69a"/>
<rect x="179.01" y="212.1" width="0.8" height="7.3" fill="#26a69a"/>
<rect x="179.82" y="213.4" width="0.8" height="9.0" fill="#ef5350"/>
<rect x="180.63" y="208.4" width="0.8" height="18.1" fill="#26a69a"/>
<rect x="181.44" y="214.7" width="0.8" height="6.1" fill="#ef5350"/>
<rect x="182.25" y="220.1" width="0.8" height="5.3" fill="#ef5350"/>
<rect x="183.06" y="221.0" width="0.8" height="8.6" fill="#ef5350"/>
<rect x="183.87" y="222.9" width="0.8" height="6.7" fill="#ef5350"/>
<rect x="184.68" y="225.0" width="0.8" height="4.9" fill="#26a69a"/>
<rect x="185.49" y="223.4" width="0.8" height="11.6" fill="#ef5350"/>
<rect x="186.30" y="218.7" width="0.8" height="28.5" fill="#ef5350"/>
<rect x="187.11" y="209.7" width="0.8" height="28.4" fill="#ef5350"/>
<rect x="187.92" y="228.9" width="0.8" height="8.9" fill="#26a69a"/>
<rect x="188.73" y="232.3" width="0.8" height="39.4" fill="#26a69a"/>
<rect x="189.54" y="215.4" width="0.8" height="18.8" fill="#26a69a"/>
<rect x="190.35" y="176.5" width="0.8" height="39.0" fill="#26a69a"/>
<rect x="191.16" y="190.1" width="0.8" height="17.2" fill="#26a69a"/>
<rect x="191.97" y="174.8" width="0.8" height="17.5" fill="#26a69a"/>
<rect x="192.78" y="177.1" width="0.8" height="9.0" fill="#26a69a"/>
<rect x="193.59" y="166.0" width="0.8" height="31.0" fill="#26a69a"/>
<rect x="194.40" y="168.6" width="0.8" height="26.5" fill="#ef5350"/>
<rect x="195.21" y="184.0" width="0.8" height="4.9" fill="#ef5350"/>
<rect x="196.02" y="184.8" width="0.8" height="10.9" fill="#ef5350"/>
<rect x="196.83" y="188.6" width="0.8" height="6.0" fill="#ef5350"/>
<rect x="197.64" y="186.3" width="0.8" height="10.7" fill="#26a69a"/>
<rect x="198.45" y="187.2" width="0.8" height="5.1" fill="#ef5350"/>
<rect x="199.26" y="186.6" width="0.8" height="7.3" fill="#ef5350"/>
<rect x="200.07" y="189.6" width="0.8" height="3.4" fill="#26a69a"/>
<rect x="200.88" y="186.0" width="0.8" height="8.0" fill="#26a69a"/>
<rect x="201.69" y="187.6" width="0.8" height="2.6" fill="#ef5350"/>
<rect x="202.50" y="189.0" width="0.8" height="1.4" fill="#26a69a"/>
<rect x="203.31" y="189.8" width="0.8" height="37.7" fill="#ef5350"/>
<rect x="204.12" y="195.3" width="0.8" height="20.0" fill="#ef5350"/>
<rect x="204.93" y="192.0" width="0.8" height="23.3" fill="#26a69a"/>
<rect x="205.74" y="195.0" width="0.8" height="25.0" fill="#26a69a"/>
<rect x="206.55" y="166.6" width="0.8" height="43.4" fill="#26a69a"/>
<rect x="207.36" y="114.0" width="0.8" height="106.0" fill="#26a69a"/>
<rect x="208.17" y="155.2" width="0.8" height="12.4" fill="#ef5350"/>
<rect x="208.98" y="164.0" width="0.8" height="28.0" fill="#ef5350"/>
<rect x="209.79" y="166.1" width="0.8" height="9.8" fill="#ef5350"/>
<rect x="210.60" y="173.7" width="0.8" height="2.4" fill="#ef5350"/>
<rect x="211.41" y="175.3" width="0.8" height="12.1" fill="#ef5350"/>
<rect x="212.22" y="175.6" width="0.8" height="9.1" fill="#26a69a"/>
<rect x="213.03" y="161.0" width="0.8" height="19.3" fill="#26a69a"/>
<rect x="213.84" y="166.7" width="0.8" height="9.3" fill="#26a69a"/>
<rect x="214.65" y="168.2" width="0.8" height="9.8" fill="#ef5350"/>
<rect x="215.46" y="162.9" width="0.8" height="21.1" fill="#26a69a"/>
<rect x="216.27" y="163.5" width="0.8" height="6.0" fill="#ef5350"/>
<rect x="217.08" y="164.8" width="0.8" height="3.8" fill="#26a69a"/>
<rect x="217.89" y="161.0" width="0.8" height="15.2" fill="#ef5350"/>
<rect x="218.70" y="169.2" width="0.8" height="8.8" fill="#ef5350"/>
<rect x="219.51" y="174.4" width="0.8" height="2.1" fill="#26a69a"/>
<rect x="220.32" y="169.5" width="0.8" height="6.1" fill="#26a69a"/>
<rect x="221.13" y="171.4" width="0.8" height="3.5" fill="#ef5350"/>
<rect x="221.94" y="173.1" width="0.8" height="10.6" fill="#ef5350"/>
<rect x="222.75" y="175.3" width="0.8" height="3.7" fill="#ef5350"/>
<rect x="223.56" y="171.4" width="0.8" height="10.5" fill="#ef5350"/>
<rect x="224.37" y="175.4" width="0.8" height="10.0" fill="#26a69a"/>
<rect x="225.18" y="169.3" width="0.8" height="6.6" fill="#26a69a"/>
<rect x="225.99" y="161.4" width="0.8" height="12.0" fill="#26a69a"/>
<rect x="226.80" y="158.5" width="0.8" height="14.1" fill="#26a69a"/>
<rect x="227.61" y="146.0" width="0.8" height="17.0" fill="#26a69a"/>
<rect x="228.42" y="154.7" width="0.8" height="6.8" fill="#ef5350"/>
<rect x="229.23" y="156.6" width="0.8" height="9.2" fill="#ef5350"/>
<rect x="230.04" y="154.8" width="0.8" height="19.2" fill="#26a69a"/>
<rect x="230.85" y="151.7" width="0.8" height="15.8" fill="#ef5350"/>
<rect x="231.66" y="161.1" width="0.8" height="5.3" fill="#ef5350"/>
<rect x="232.47" y="158.4" width="0.8" height="7.3" fill="#26a69a"/>
<rect x="233.28" y="125.6" width="0.8" height="35.4" fill="#26a69a"/>
<rect x="234.09" y="149.4" width="0.8" height="11.0" fill="#26a69a"/>
<rect x="234.90" y="149.9" width="0.8" height="7.1" fill="#ef5350"/>
<rect x="235.71" y="149.5" width="0.8" height="6.1" fill="#ef5350"/>
<rect x="236.52" y="115.0" width="0.8" height="44.0" fill="#26a69a"/>
<rect x="237.33" y="141.0" width="0.8" height="15.1" fill="#ef5350"/>
<rect x="238.14" y="143.4" width="0.8" height="6.4" fill="#26a69a"/>
<rect x="238.95" y="145.7" width="0.8" height="23.3" fill="#26a69a"/>
<rect x="239.76" y="143.4" width="0.8" height="12.1" fill="#ef5350"/>
<rect x="240.57" y="147.8" width="0.8" height="8.6" fill="#26a69a"/>
<rect x="241.38" y="150.2" width="0.8" height="7.7" fill="#ef5350"/>
<rect x="242.19" y="148.0" width="0.8" height="7.5" fill="#ef5350"/>
<rect x="243.00" y="153.9" width="0.8" height="8.9" fill="#ef5350"/>
<rect x="243.81" y="152.8" width="0.8" height="7.3" fill="#ef5350"/>
<rect x="244.62" y="155.3" width="0.8" height="5.4" fill="#26a69a"/>
<rect x="245.43" y="123.0" width="0.8" height="34.1" fill="#26a69a"/>
<rect x="246.24" y="114.5" width="0.8" height="14.9" fill="#26a69a"/>
<rect x="247.05" y="114.8" width="0.8" height="15.9" fill="#ef5350"/>
<rect x="247.86" y="104.0" width="0.8" height="15.8" fill="#26a69a"/>
<rect x="248.67" y="106.7" width="0.8" height="21.2" fill="#ef5350"/>
<rect x="249.48" y="120.3" width="0.8" height="10.4" fill="#ef5350"/>
<rect x="250.29" y="118.6" width="0.8" height="8.5" fill="#ef5350"/>
<rect x="251.10" y="124.4" width="0.8" height="5.0" fill="#ef5350"/>
<rect x="251.91" y="124.6" width="0.8" height="4.8" fill="#ef5350"/>
<rect x="252.72" y="115.0" width="0.8" height="14.4" fill="#26a69a"/>
<rect x="253.53" y="121.5" width="0.8" height="5.7" fill="#26a69a"/>
<rect x="254.34" y="120.5" width="0.8" height="2.5" fill="#ef5350"/>
<rect x="255.15" y="118.2" width="0.8" height="4.0" fill="#26a69a"/>
<rect x="255.96" y="117.7" width="0.8" height="4.3" fill="#26a69a"/>
<rect x="256.77" y="115.9" width="0.8" height="12.9" fill="#ef5350"/>
<rect x="257.58" y="120.2" width="0.8" height="4.7" fill="#26a69a"/>
<rect x="258.39" y="118.9" width="0.8" height="4.8" fill="#ef5350"/>
<rect x="259.20" y="119.5" width="0.8" height="3.5" fill="#26a69a"/>
<rect x="260.01" y="116.7" width="0.8" height="4.6" fill="#26a69a"/>
<rect x="260.82" y="118.5" width="0.8" height="3.0" fill="#ef5350"/>
<rect x="261.63" y="116.7" width="0.8" height="4.7" fill="#26a69a"/>
<rect x="262.44" y="118.3" width="0.8" height="4.7" fill="#26a69a"/>
<rect x="263.25" y="118.5" width="0.8" height="19.7" fill="#ef5350"/>
<rect x="264.06" y="125.6" width="0.8" height="16.9" fill="#ef5350"/>
<rect x="264.87" y="131.6" width="0.8" height="15.4" fill="#26a69a"/>
<rect x="265.68" y="124.5" width="0.8" height="11.7" fill="#26a69a"/>
<rect x="266.49" y="127.0" width="0.8" height="33.4" fill="#ef5350"/>
<rect x="267.30" y="123.3" width="0.8" height="6.6" fill="#26a69a"/>
<rect x="268.11" y="123.3" width="0.8" height="9.6" fill="#ef5350"/>
<rect x="268.92" y="126.0" width="0.8" height="14.5" fill="#ef5350"/>
<rect x="269.73" y="131.0" width="0.8" height="9.0" fill="#26a69a"/>
<rect x="270.54" y="127.1" width="0.8" height="30.9" fill="#26a69a"/>
<rect x="271.35" y="132.4" width="0.8" height="17.2" fill="#ef5350"/>
<rect x="272.16" y="125.5" width="0.8" height="19.3" fill="#26a69a"/>
<rect x="272.97" y="109.0" width="0.8" height="51.4" fill="#26a69a"/>
<rect x="273.78" y="139.0" width="0.8" height="34.5" fill="#ef5350"/>
<rect x="274.59" y="149.6" width="0.8" height="8.2" fill="#ef5350"/>
<rect x="275.40" y="154.0" width="0.8" height="4.5" fill="#ef5350"/>
<rect x="276.21" y="154.5" width="0.8" height="7.3" fill="#ef5350"/>
<rect x="277.02" y="157.3" width="0.8" height="15.8" fill="#ef5350"/>
<rect x="277.83" y="160.9" width="0.8" height="11.6" fill="#26a69a"/>
<rect x="278.64" y="169.0" width="0.8" height="5.8" fill="#ef5350"/>
<rect x="279.45" y="174.2" width="0.8" height="7.5" fill="#ef5350"/>
<rect x="280.26" y="174.3" width="0.8" height="3.7" fill="#26a69a"/>
<rect x="281.07" y="169.6" width="0.8" height="8.6" fill="#26a69a"/>
<rect x="281.88" y="169.4" width="0.8" height="15.0" fill="#26a69a"/>
<rect x="282.69" y="168.7" width="0.8" height="9.7" fill="#ef5350"/>
<rect x="283.50" y="160.4" width="0.8" height="17.6" fill="#26a69a"/>
<rect x="284.31" y="172.8" width="0.8" height="7.2" fill="#26a69a"/>
<rect x="285.12" y="169.4" width="0.8" height="4.1" fill="#26a69a"/>
<rect x="285.93" y="165.9" width="0.8" height="7.6" fill="#26a69a"/>
<rect x="286.74" y="163.4" width="0.8" height="9.5" fill="#ef5350"/>
<rect x="287.55" y="158.0" width="0.8" height="15.5" fill="#26a69a"/>
<rect x="288.36" y="163.8" width="0.8" height="6.6" fill="#ef5350"/>
<rect x="289.17" y="161.2" width="0.8" height="9.4" fill="#ef5350"/>
<rect x="289.98" y="166.9" width="0.8" height="5.1" fill="#26a69a"/>
<rect x="290.79" y="166.4" width="0.8" height="3.4" fill="#26a69a"/>
<rect x="291.60" y="154.1" width="0.8" height="14.5" fill="#26a69a"/>
<rect x="292.41" y="150.4" width="0.8" height="7.3" fill="#26a69a"/>
<rect x="293.22" y="150.7" width="0.8" height="2.2" fill="#ef5350"/>
<rect x="294.03" y="145.0" width="0.8" height="7.8" fill="#26a69a"/>
<rect x="294.84" y="147.5" width="0.8" height="5.0" fill="#ef5350"/>
<rect x="295.65" y="146.2" width="0.8" height="4.4" fill="#26a69a"/>
<rect x="296.46" y="146.0" width="0.8" height="8.0" fill="#ef5350"/>
<rect x="297.27" y="145.1" width="0.8" height="8.1" fill="#26a69a"/>
<rect x="298.08" y="146.9" width="0.8" height="4.7" fill="#ef5350"/>
<rect x="298.89" y="145.0" width="0.8" height="6.5" fill="#26a69a"/>
<rect x="299.70" y="146.0" width="0.8" height="6.9" fill="#ef5350"/>
<rect x="300.51" y="150.2" width="0.8" height="1.2" fill="#ef5350"/>
<rect x="301.32" y="148.1" width="0.8" height="3.6" fill="#26a69a"/>
<rect x="302.13" y="143.7" width="0.8" height="5.0" fill="#26a69a"/>
<rect x="302.94" y="133.0" width="0.8" height="34.0" fill="#26a69a"/>
<rect x="303.75" y="145.7" width="0.8" height="10.7" fill="#ef5350"/>
<rect x="304.56" y="147.0" width="0.8" height="7.4" fill="#26a69a"/>
<rect x="305.37" y="147.6" width="0.8" height="19.4" fill="#ef5350"/>
<rect x="306.18" y="153.2" width="0.8" height="5.5" fill="#26a69a"/>
<rect x="306.99" y="154.4" width="0.8" height="7.5" fill="#ef5350"/>
<rect x="307.80" y="145.0" width="0.8" height="28.5" fill="#26a69a"/>
<rect x="308.61" y="156.2" width="0.8" height="19.7" fill="#ef5350"/>
<rect x="309.42" y="168.9" width="0.8" height="40.5" fill="#ef5350"/>
<rect x="310.23" y="175.5" width="0.8" height="31.2" fill="#ef5350"/>
<rect x="311.04" y="186.6" width="0.8" height="3.7" fill="#26a69a"/>
<rect x="311.85" y="185.1" width="0.8" height="1.7" fill="#26a69a"/>
<rect x="312.66" y="184.1" width="0.8" height="1.8" fill="#26a69a"/>
<rect x="313.47" y="175.6" width="0.8" height="11.0" fill="#26a69a"/>
<rect x="314.28" y="172.4" width="0.8" height="13.0" fill="#ef5350"/>
<rect x="315.09" y="180.2" width="0.8" height="4.0" fill="#26a69a"/>
<rect x="315.90" y="178.4" width="0.8" height="3.8" fill="#26a69a"/>
<rect x="316.71" y="175.6" width="0.8" height="11.0" fill="#ef5350"/>
<rect x="317.52" y="175.0" width="0.8" height="10.2" fill="#26a69a"/>
<rect x="318.33" y="174.9" width="0.8" height="5.5" fill="#ef5350"/>
<rect x="319.14" y="177.8" width="0.8" height="4.1" fill="#26a69a"/>
<rect x="319.95" y="178.4" width="0.8" height="4.1" fill="#ef5350"/>
<rect x="320.76" y="177.9" width="0.8" height="5.5" fill="#ef5350"/>
<rect x="321.57" y="177.8" width="0.8" height="5.8" fill="#ef5350"/>
<rect x="322.38" y="175.7" width="0.8" height="13.0" fill="#ef5350"/>
<rect x="323.19" y="180.8" width="0.8" height="5.6" fill="#ef5350"/>
<rect x="324.00" y="183.9" width="0.8" height="7.1" fill="#26a69a"/>
<rect x="324.81" y="184.8" width="0.8" height="10.4" fill="#ef5350"/>
<rect x="325.62" y="178.0" width="0.8" height="21.0" fill="#ef5350"/>
<rect x="326.43" y="194.7" width="0.8" height="7.1" fill="#ef5350"/>
<rect x="327.24" y="190.5" width="0.8" height="11.3" fill="#26a69a"/>
<rect x="328.05" y="185.3" width="0.8" height="11.0" fill="#26a69a"/>
<rect x="328.86" y="178.0" width="0.8" height="12.7" fill="#26a69a"/>
<rect x="329.67" y="183.2" width="0.8" height="7.1" fill="#ef5350"/>
<rect x="330.48" y="187.9" width="0.8" height="6.5" fill="#ef5350"/>
<rect x="331.29" y="186.7" width="0.8" height="5.4" fill="#ef5350"/>
<rect x="332.10" y="186.5" width="0.8" height="7.7" fill="#ef5350"/>
<rect x="332.91" y="190.4" width="0.8" height="6.6" fill="#ef5350"/>
<rect x="333.72" y="192.1" width="0.8" height="4.8" fill="#ef5350"/>
<rect x="334.53" y="191.4" width="0.8" height="5.5" fill="#26a69a"/>
<rect x="335.34" y="186.8" width="0.8" height="7.4" fill="#26a69a"/>
<rect x="336.15" y="190.0" width="0.8" height="5.0" fill="#ef5350"/>
<rect x="336.96" y="191.3" width="0.8" height="3.2" fill="#ef5350"/>
<rect x="337.77" y="191.8" width="0.8" height="3.0" fill="#ef5350"/>
<rect x="338.58" y="193.9" width="0.8" height="2.8" fill="#ef5350"/>
<rect x="339.39" y="193.3" width="0.8" height="1.3" fill="#26a69a"/>
<rect x="340.20" y="188.3" width="0.8" height="10.5" fill="#26a69a"/>
<rect x="341.01" y="184.8" width="0.8" height="9.2" fill="#26a69a"/>
<rect x="341.82" y="175.0" width="0.8" height="12.0" fill="#26a69a"/>
<rect x="342.63" y="180.7" width="0.8" height="8.0" fill="#ef5350"/>
<rect x="343.44" y="176.6" width="0.8" height="13.6" fill="#ef5350"/>
<rect x="344.25" y="175.1" width="0.8" height="18.9" fill="#26a69a"/>
<rect x="345.06" y="177.6" width="0.8" height="5.2" fill="#26a69a"/>
<rect x="345.87" y="168.1" width="0.8" height="10.6" fill="#26a69a"/>
<rect x="346.68" y="171.1" width="0.8" height="7.6" fill="#ef5350"/>
<rect x="347.49" y="170.3" width="0.8" height="5.3" fill="#26a69a"/>
<rect x="348.30" y="167.3" width="0.8" height="8.7" fill="#ef5350"/>
<rect x="349.11" y="171.8" width="0.8" height="5.0" fill="#26a69a"/>
<rect x="349.92" y="172.5" width="0.8" height="4.4" fill="#ef5350"/>
<rect x="350.73" y="174.7" width="0.8" height="4.0" fill="#26a69a"/>
<rect x="351.54" y="172.5" width="0.8" height="5.2" fill="#26a69a"/>
<rect x="352.35" y="173.2" width="0.8" height="3.0" fill="#ef5350"/>
<rect x="353.16" y="173.2" width="0.8" height="4.9" fill="#26a69a"/>
<rect x="353.97" y="171.0" width="0.8" height="5.5" fill="#26a69a"/>
<rect x="354.78" y="174.2" width="0.8" height="4.5" fill="#26a69a"/>
<rect x="355.59" y="174.3" width="0.8" height="3.3" fill="#ef5350"/>
<rect x="356.40" y="175.9" width="0.8" height="10.5" fill="#ef5350"/>
<rect x="357.21" y="176.0" width="0.8" height="5.8" fill="#ef5350"/>
<rect x="358.02" y="179.2" width="0.8" height="1.9" fill="#ef5350"/>
<rect x="358.83" y="178.2" width="0.8" height="4.3" fill="#ef5350"/>
<rect x="359.64" y="175.0" width="0.8" height="7.5" fill="#26a69a"/>
<rect x="360.45" y="175.0" width="0.8" height="3.5" fill="#26a69a"/>
<rect x="361.26" y="176.8" width="0.8" height="2.5" fill="#ef5350"/>
<rect x="362.07" y="171.0" width="0.8" height="29.7" fill="#26a69a"/>
<rect x="362.88" y="173.4" width="0.8" height="8.8" fill="#ef5350"/>
<rect x="363.69" y="173.6" width="0.8" height="23.6" fill="#ef5350"/>
<rect x="364.50" y="155.0" width="0.8" height="29.6" fill="#26a69a"/>
<rect x="365.31" y="165.8" width="0.8" height="11.7" fill="#26a69a"/>
<rect x="366.12" y="159.5" width="0.8" height="13.7" fill="#26a69a"/>
<rect x="366.93" y="157.6" width="0.8" height="7.5" fill="#26a69a"/>
<rect x="367.74" y="155.8" width="0.8" height="12.2" fill="#ef5350"/>
<rect x="368.55" y="161.4" width="0.8" height="15.4" fill="#26a69a"/>
<rect x="369.36" y="166.2" width="0.8" height="6.5" fill="#ef5350"/>
<rect x="370.17" y="169.0" width="0.8" height="15.5" fill="#ef5350"/>
<rect x="370.98" y="170.6" width="0.8" height="7.1" fill="#ef5350"/>
<rect x="371.79" y="174.2" width="0.8" height="2.2" fill="#ef5350"/>
<rect x="372.60" y="173.6" width="0.8" height="2.2" fill="#26a69a"/>
<rect x="373.41" y="171.6" width="0.8" height="5.2" fill="#26a69a"/>
<rect x="374.22" y="170.6" width="0.8" height="4.2" fill="#ef5350"/>
<rect x="375.03" y="173.2" width="0.8" height="2.0" fill="#ef5350"/>
<rect x="375.84" y="173.1" width="0.8" height="1.9" fill="#26a69a"/>
<rect x="376.65" y="170.0" width="0.8" height="6.8" fill="#ef5350"/>
<rect x="377.46" y="172.7" width="0.8" height="1.9" fill="#26a69a"/>
<rect x="378.27" y="173.0" width="0.8" height="1.3" fill="#26a69a"/>
<rect x="379.08" y="162.8" width="0.8" height="10.3" fill="#26a69a"/>
<rect x="379.89" y="163.6" width="0.8" height="6.1" fill="#ef5350"/>
<rect x="380.70" y="154.0" width="0.8" height="17.0" fill="#26a69a"/>
<rect x="381.51" y="159.5" width="0.8" height="4.2" fill="#26a69a"/>
<rect x="382.32" y="154.0" width="0.8" height="16.7" fill="#ef5350"/>
<rect x="383.13" y="163.0" width="0.8" height="3.3" fill="#ef5350"/>
<rect x="383.94" y="159.5" width="0.8" height="12.0" fill="#26a69a"/>
<rect x="384.75" y="159.2" width="0.8" height="9.7" fill="#ef5350"/>
<rect x="385.56" y="157.7" width="0.8" height="15.3" fill="#ef5350"/>
<rect x="386.37" y="165.4" width="0.8" height="5.9" fill="#26a69a"/>
<rect x="387.18" y="165.4" width="0.8" height="17.1" fill="#ef5350"/>
<rect x="387.99" y="165.4" width="0.8" height="10.0" fill="#ef5350"/>
<rect x="388.80" y="167.7" width="0.8" height="4.7" fill="#26a69a"/>
<rect x="389.61" y="162.7" width="0.8" height="6.2" fill="#26a69a"/>
<rect x="390.42" y="155.4" width="0.8" height="8.2" fill="#26a69a"/>
<rect x="391.23" y="153.0" width="0.8" height="6.8" fill="#ef5350"/>
<rect x="392.04" y="156.9" width="0.8" height="4.9" fill="#26a69a"/>
<rect x="392.85" y="157.2" width="0.8" height="6.3" fill="#26a69a"/>
<rect x="393.66" y="140.5" width="0.8" height="17.4" fill="#26a69a"/>
<rect x="394.47" y="148.0" width="0.8" height="6.0" fill="#26a69a"/>
<rect x="395.28" y="146.4" width="0.8" height="5.5" fill="#26a69a"/>
<rect x="396.09" y="147.0" width="0.8" height="5.4" fill="#ef5350"/>
<rect x="396.90" y="141.8" width="0.8" height="12.2" fill="#26a69a"/>
<rect x="397.71" y="145.1" width="0.8" height="5.0" fill="#ef5350"/>
<rect x="398.52" y="147.2" width="0.8" height="4.9" fill="#26a69a"/>
<rect x="399.33" y="141.1" width="0.8" height="6.6" fill="#26a69a"/>
<rect x="400.14" y="129.0" width="0.8" height="16.3" fill="#26a69a"/>
<rect x="400.95" y="140.5" width="0.8" height="5.8" fill="#26a69a"/>
<rect x="401.76" y="130.5" width="0.8" height="11.1" fill="#26a69a"/>
<rect x="402.57" y="127.3" width="0.8" height="9.1" fill="#26a69a"/>
<rect x="403.38" y="126.6" width="0.8" height="10.4" fill="#ef5350"/>
<rect x="404.19" y="120.6" width="0.8" height="18.8" fill="#26a69a"/>
<rect x="405.00" y="130.1" width="0.8" height="4.4" fill="#ef5350"/>
<rect x="405.81" y="131.4" width="0.8" height="5.2" fill="#ef5350"/>
<rect x="406.62" y="132.9" width="0.8" height="9.0" fill="#ef5350"/>
<rect x="407.43" y="136.9" width="0.8" height="3.8" fill="#ef5350"/>
<rect x="408.24" y="135.2" width="0.8" height="7.0" fill="#ef5350"/>
<rect x="409.05" y="139.4" width="0.8" height="2.1" fill="#26a69a"/>
<rect x="409.86" y="138.2" width="0.8" height="7.0" fill="#ef5350"/>
<rect x="410.67" y="131.3" width="0.8" height="13.9" fill="#26a69a"/>
<rect x="411.48" y="136.8" width="0.8" height="5.1" fill="#ef5350"/>
<rect x="412.29" y="136.8" width="0.8" height="8.4" fill="#26a69a"/>
<rect x="413.10" y="133.2" width="0.8" height="5.5" fill="#26a69a"/>
<rect x="413.91" y="127.6" width="0.8" height="5.7" fill="#26a69a"/>
<rect x="414.72" y="129.0" width="0.8" height="1.2" fill="#ef5350"/>
<rect x="415.53" y="128.4" width="0.8" height="2.9" fill="#ef5350"/>
<rect x="416.34" y="128.5" width="0.8" height="2.8" fill="#26a69a"/>
<rect x="417.15" y="127.6" width="0.8" height="3.7" fill="#ef5350"/>
<rect x="417.96" y="124.7" width="0.8" height="5.6" fill="#26a69a"/>
<rect x="418.77" y="127.3" width="0.8" height="4.0" fill="#ef5350"/>
<rect x="419.58" y="122.3" width="0.8" height="11.0" fill="#ef5350"/>
<rect x="420.39" y="127.9" width="0.8" height="9.9" fill="#26a69a"/>
<rect x="421.20" y="126.8" width="0.8" height="4.9" fill="#ef5350"/>
<rect x="422.01" y="124.2" width="0.8" height="16.8" fill="#26a69a"/>
<rect x="422.82" y="126.4" width="0.8" height="8.6" fill="#ef5350"/>
<rect x="423.63" y="124.0" width="0.8" height="12.4" fill="#26a69a"/>
<rect x="424.44" y="129.6" width="0.8" height="7.2" fill="#26a69a"/>
<rect x="425.25" y="127.5" width="0.8" height="6.8" fill="#ef5350"/>
<rect x="426.06" y="124.0" width="0.8" height="11.1" fill="#26a69a"/>
<rect x="426.87" y="129.5" width="0.8" height="6.0" fill="#ef5350"/>
<rect x="427.68" y="135.4" width="0.8" height="2.4" fill="#ef5350"/>
<rect x="428.49" y="137.0" width="0.8" height="2.7" fill="#ef5350"/>
<rect x="429.30" y="137.6" width="0.8" height="5.1" fill="#ef5350"/>
<rect x="430.11" y="138.4" width="0.8" height="2.7" fill="#26a69a"/>
<rect x="430.92" y="137.0" width="0.8" height="3.0" fill="#26a69a"/>
<rect x="431.73" y="137.0" width="0.8" height="4.5" fill="#ef5350"/>
<rect x="432.54" y="138.0" width="0.8" height="1.7" fill="#26a69a"/>
<rect x="433.35" y="137.1" width="0.8" height="2.5" fill="#26a69a"/>
<rect x="434.16" y="137.0" width="0.8" height="3.0" fill="#ef5350"/>
<rect x="434.97" y="138.5" width="0.8" height="3.8" fill="#ef5350"/>
<rect x="435.78" y="137.0" width="0.8" height="5.0" fill="#ef5350"/>
<rect x="436.59" y="139.9" width="0.8" height="2.1" fill="#26a69a"/>
<rect x="437.40" y="139.1" width="0.8" height="2.0" fill="#ef5350"/>
<rect x="438.21" y="140.4" width="0.8" height="1.6" fill="#ef5350"/>
<rect x="439.02" y="139.5" width="0.8" height="3.2" fill="#26a69a"/>
<rect x="439.83" y="141.0" width="0.8" height="15.6" fill="#ef5350"/>
<rect x="440.64" y="145.4" width="0.8" height="7.4" fill="#26a69a"/>
<rect x="441.45" y="142.7" width="0.8" height="6.7" fill="#ef5350"/>
<rect x="442.26" y="146.9" width="0.8" height="8.5" fill="#26a69a"/>
<rect x="443.07" y="146.1" width="0.8" height="7.0" fill="#ef5350"/>
<rect x="443.88" y="148.0" width="0.8" height="4.8" fill="#ef5350"/>
<rect x="444.69" y="146.6" width="0.8" height="6.9" fill="#26a69a"/>
<rect x="445.50" y="148.7" width="0.8" height="9.5" fill="#ef5350"/>
<rect x="446.31" y="155.8" width="0.8" height="3.0" fill="#ef5350"/>
<rect x="447.12" y="157.4" width="0.8" height="1.5" fill="#ef5350"/>
<rect x="447.93" y="157.4" width="0.8" height="10.6" fill="#ef5350"/>
<rect x="448.74" y="160.1" width="0.8" height="3.3" fill="#26a69a"/>
<rect x="449.55" y="161.0" width="0.8" height="6.3" fill="#ef5350"/>
<rect x="450.36" y="161.5" width="0.8" height="3.7" fill="#ef5350"/>
<rect x="451.17" y="163.5" width="0.8" height="1.8" fill="#26a69a"/>
<rect x="451.98" y="162.9" width="0.8" height="2.0" fill="#ef5350"/>
<rect x="452.79" y="164.5" width="0.8" height="2.4" fill="#ef5350"/>
<rect x="453.60" y="163.6" width="0.8" height="3.7" fill="#26a69a"/>
<rect x="454.41" y="161.5" width="0.8" height="3.8" fill="#26a69a"/>
<rect x="455.22" y="163.1" width="0.8" height="1.2" fill="#26a69a"/>
<rect x="456.03" y="161.5" width="0.8" height="4.9" fill="#ef5350"/>
<rect x="456.84" y="162.2" width="0.8" height="5.1" fill="#26a69a"/>
<rect x="457.65" y="155.8" width="0.8" height="10.4" fill="#ef5350"/>
<rect x="458.46" y="161.5" width="0.8" height="5.8" fill="#26a69a"/>
<rect x="459.27" y="158.9" width="0.8" height="8.4" fill="#26a69a"/>
<rect x="460.08" y="155.6" width="0.8" height="5.5" fill="#26a69a"/>
<rect x="460.89" y="149.3" width="0.8" height="9.9" fill="#26a69a"/>
<rect x="461.70" y="154.2" width="0.8" height="2.2" fill="#ef5350"/>
<rect x="462.51" y="155.8" width="0.8" height="19.6" fill="#ef5350"/>
<rect x="463.32" y="159.7" width="0.8" height="11.3" fill="#26a69a"/>
<rect x="464.13" y="161.8" width="0.8" height="5.8" fill="#ef5350"/>
<rect x="464.94" y="155.8" width="0.8" height="13.0" fill="#26a69a"/>
<rect x="465.75" y="159.6" width="0.8" height="5.0" fill="#ef5350"/>
<rect x="466.56" y="161.1" width="0.8" height="5.5" fill="#ef5350"/>
<rect x="467.37" y="162.9" width="0.8" height="5.2" fill="#26a69a"/>
<rect x="468.18" y="159.6" width="0.8" height="7.4" fill="#ef5350"/>
<rect x="468.99" y="162.1" width="0.8" height="7.2" fill="#26a69a"/>
<rect x="469.80" y="159.7" width="0.8" height="11.3" fill="#ef5350"/>
<rect x="470.61" y="163.8" width="0.8" height="2.5" fill="#ef5350"/>
<rect x="471.42" y="162.4" width="0.8" height="4.4" fill="#26a69a"/>
<rect x="472.23" y="159.6" width="0.8" height="6.0" fill="#26a69a"/>
<rect x="473.04" y="159.6" width="0.8" height="3.4" fill="#26a69a"/>
<rect x="473.85" y="159.6" width="0.8" height="6.7" fill="#ef5350"/>
<rect x="474.66" y="162.6" width="0.8" height="5.3" fill="#ef5350"/>
<rect x="475.47" y="163.8" width="0.8" height="5.7" fill="#ef5350"/>
<rect x="476.28" y="159.7" width="0.8" height="11.1" fill="#26a69a"/>
<rect x="477.09" y="160.8" width="0.8" height="4.0" fill="#ef5350"/>
<rect x="477.90" y="159.6" width="0.8" height="6.4" fill="#ef5350"/>
<rect x="478.71" y="163.3" width="0.8" height="2.8" fill="#26a69a"/>
<rect x="479.52" y="163.1" width="0.8" height="1.2" fill="#26a69a"/>
<rect x="480.33" y="161.8" width="0.8" height="2.9" fill="#26a69a"/>
<rect x="481.14" y="159.6" width="0.8" height="4.4" fill="#26a69a"/>
<rect x="481.95" y="161.2" width="0.8" height="3.7" fill="#ef5350"/>
<rect x="482.76" y="163.8" width="0.8" height="3.7" fill="#ef5350"/>
<rect x="483.57" y="164.5" width="0.8" height="6.5" fill="#ef5350"/>
<rect x="484.38" y="167.8" width="0.8" height="4.2" fill="#26a69a"/>
<rect x="485.19" y="168.1" width="0.8" height="6.2" fill="#ef5350"/>
<rect x="486.00" y="172.9" width="0.8" height="10.5" fill="#ef5350"/>
<rect x="486.81" y="174.2" width="0.8" height="5.0" fill="#ef5350"/>
<rect x="487.62" y="174.4" width="0.8" height="7.9" fill="#ef5350"/>
<rect x="488.43" y="178.2" width="0.8" height="4.4" fill="#ef5350"/>
<rect x="489.24" y="174.4" width="0.8" height="9.3" fill="#26a69a"/>
<rect x="490.05" y="176.2" width="0.8" height="7.5" fill="#ef5350"/>
<rect x="490.86" y="179.1" width="0.8" height="6.7" fill="#ef5350"/>
<rect x="491.67" y="179.8" width="0.8" height="3.9" fill="#26a69a"/>
<rect x="492.48" y="181.2" width="0.8" height="1.2" fill="#ef5350"/>
<rect x="493.29" y="181.6" width="0.8" height="5.0" fill="#ef5350"/>
<rect x="494.10" y="179.0" width="0.8" height="3.7" fill="#26a69a"/>
<rect x="494.91" y="179.2" width="0.8" height="6.7" fill="#ef5350"/>
<rect x="495.72" y="179.0" width="0.8" height="5.9" fill="#ef5350"/>
<rect x="496.53" y="183.8" width="0.8" height="2.8" fill="#26a69a"/>
<rect x="497.34" y="175.1" width="0.8" height="9.0" fill="#26a69a"/>
<rect x="498.15" y="167.0" width="0.8" height="11.6" fill="#26a69a"/>
<rect x="498.96" y="173.5" width="0.8" height="7.5" fill="#ef5350"/>
<rect x="499.77" y="172.7" width="0.8" height="34.3" fill="#ef5350"/>
<rect x="500.58" y="172.7" width="0.8" height="22.6" fill="#ef5350"/>
<rect x="501.39" y="190.1" width="0.8" height="2.8" fill="#26a69a"/>
<rect x="502.20" y="189.0" width="0.8" height="5.5" fill="#ef5350"/>
<rect x="503.01" y="189.0" width="0.8" height="5.1" fill="#26a69a"/>
<rect x="503.82" y="189.0" width="0.8" height="11.5" fill="#ef5350"/>
<rect x="504.63" y="192.4" width="0.8" height="4.3" fill="#ef5350"/>
<rect x="505.44" y="195.3" width="0.8" height="2.6" fill="#ef5350"/>
<rect x="506.25" y="193.8" width="0.8" height="3.0" fill="#26a69a"/>
<rect x="507.06" y="193.9" width="0.8" height="3.3" fill="#ef5350"/>
<rect x="507.87" y="196.9" width="0.8" height="4.5" fill="#ef5350"/>
<rect x="508.68" y="196.6" width="0.8" height="5.6" fill="#26a69a"/>
<rect x="509.49" y="192.4" width="0.8" height="6.6" fill="#26a69a"/>
<rect x="510.30" y="193.5" width="0.8" height="4.6" fill="#26a69a"/>
<rect x="511.11" y="192.7" width="0.8" height="3.7" fill="#26a69a"/>
<rect x="511.92" y="193.2" width="0.8" height="4.9" fill="#ef5350"/>
<rect x="512.73" y="197.1" width="0.8" height="3.4" fill="#ef5350"/>
<rect x="513.54" y="195.6" width="0.8" height="6.6" fill="#26a69a"/>
<rect x="514.35" y="195.2" width="0.8" height="5.6" fill="#ef5350"/>
<rect x="515.16" y="197.4" width="0.8" height="3.7" fill="#26a69a"/>
<rect x="515.97" y="194.2" width="0.8" height="5.0" fill="#ef5350"/>
<rect x="516.78" y="197.8" width="0.8" height="1.6" fill="#ef5350"/>
<rect x="517.59" y="194.0" width="0.8" height="13.0" fill="#ef5350"/>
<rect x="518.40" y="197.9" width="0.8" height="1.6" fill="#ef5350"/>
<rect x="519.21" y="198.7" width="0.8" height="6.8" fill="#ef5350"/>
<rect x="520.02" y="196.5" width="0.8" height="8.7" fill="#26a69a"/>
<rect x="520.83" y="197.1" width="0.8" height="3.5" fill="#26a69a"/>
<rect x="521.64" y="195.6" width="0.8" height="6.3" fill="#ef5350"/>
<rect x="522.45" y="199.9" width="0.8" height="8.8" fill="#ef5350"/>
<rect x="523.26" y="202.6" width="0.8" height="9.2" fill="#ef5350"/>
<rect x="524.07" y="207.2" width="0.8" height="5.8" fill="#26a69a"/>
<rect x="524.88" y="206.7" width="0.8" height="11.8" fill="#ef5350"/>
<rect x="525.69" y="207.6" width="0.8" height="5.7" fill="#26a69a"/>
<rect x="526.50" y="206.1" width="0.8" height="4.8" fill="#26a69a"/>
<rect x="527.31" y="204.0" width="0.8" height="2.6" fill="#26a69a"/>
<rect x="528.12" y="202.5" width="0.8" height="7.8" fill="#ef5350"/>
<rect x="528.93" y="204.7" width="0.8" height="3.3" fill="#ef5350"/>
<rect x="529.74" y="202.2" width="0.8" height="6.7" fill="#26a69a"/>
<rect x="530.55" y="202.7" width="0.8" height="2.7" fill="#26a69a"/>
<rect x="531.36" y="202.2" width="0.8" height="2.7" fill="#ef5350"/>
<rect x="532.17" y="204.3" width="0.8" height="4.0" fill="#ef5350"/>
<rect x="532.98" y="204.0" width="0.8" height="5.1" fill="#26a69a"/>
<rect x="533.79" y="204.2" width="0.8" height="5.1" fill="#ef5350"/>
<rect x="534.60" y="206.5" width="0.8" height="2.3" fill="#26a69a"/>
<rect x="535.41" y="202.9" width="0.8" height="5.0" fill="#26a69a"/>
<rect x="536.22" y="201.5" width="0.8" height="5.5" fill="#26a69a"/>
<rect x="537.03" y="187.4" width="0.8" height="19.4" fill="#ef5350"/>
<rect x="537.84" y="195.9" width="0.8" height="11.1" fill="#26a69a"/>
<rect x="538.65" y="175.4" width="0.8" height="21.5" fill="#26a69a"/>
<rect x="539.46" y="164.3" width="0.8" height="20.4" fill="#26a69a"/>
<rect x="540.27" y="158.0" width="0.8" height="18.5" fill="#ef5350"/>
<rect x="541.08" y="163.0" width="0.8" height="12.8" fill="#26a69a"/>
<rect x="541.89" y="169.4" width="0.8" height="5.0" fill="#26a69a"/>
<rect x="542.70" y="169.7" width="0.8" height="5.4" fill="#ef5350"/>
<rect x="543.51" y="172.0" width="0.8" height="10.0" fill="#ef5350"/>
<rect x="544.32" y="174.4" width="0.8" height="5.1" fill="#26a69a"/>
<rect x="545.13" y="172.2" width="0.8" height="3.3" fill="#26a69a"/>
<rect x="545.94" y="172.0" width="0.8" height="4.9" fill="#26a69a"/>
<rect x="546.75" y="173.6" width="0.8" height="3.1" fill="#ef5350"/>
<rect x="547.56" y="174.4" width="0.8" height="3.2" fill="#26a69a"/>
<rect x="548.37" y="174.0" width="0.8" height="3.7" fill="#ef5350"/>
<rect x="549.18" y="172.8" width="0.8" height="6.2" fill="#26a69a"/>
<rect x="549.99" y="174.8" width="0.8" height="3.6" fill="#ef5350"/>
<rect x="550.80" y="172.9" width="0.8" height="5.1" fill="#26a69a"/>
<rect x="551.61" y="174.6" width="0.8" height="2.9" fill="#ef5350"/>
<rect x="552.42" y="172.7" width="0.8" height="8.3" fill="#ef5350"/>
<rect x="553.23" y="176.5" width="0.8" height="3.5" fill="#ef5350"/>
<rect x="554.04" y="178.2" width="0.8" height="2.4" fill="#ef5350"/>
<rect x="554.85" y="179.0" width="0.8" height="11.0" fill="#ef5350"/>
<rect x="555.66" y="185.4" width="0.8" height="5.4" fill="#ef5350"/>
<rect x="556.47" y="179.0" width="0.8" height="10.8" fill="#26a69a"/>
<rect x="557.28" y="185.8" width="0.8" height="10.2" fill="#ef5350"/>
<rect x="558.09" y="185.2" width="0.8" height="5.3" fill="#26a69a"/>
<rect x="558.90" y="184.0" width="0.8" height="4.0" fill="#26a69a"/>
<rect x="559.71" y="183.0" width="0.8" height="5.0" fill="#26a69a"/>
<rect x="560.52" y="182.7" width="0.8" height="3.1" fill="#ef5350"/>
<rect x="561.33" y="183.8" width="0.8" height="1.5" fill="#26a69a"/>
<rect x="562.14" y="169.0" width="0.8" height="15.9" fill="#26a69a"/>
<rect x="562.95" y="176.3" width="0.8" height="4.1" fill="#26a69a"/>
<rect x="563.76" y="175.0" width="0.8" height="5.7" fill="#ef5350"/>
<rect x="564.57" y="179.8" width="0.8" height="3.2" fill="#ef5350"/>
<rect x="565.38" y="174.5" width="0.8" height="8.2" fill="#26a69a"/>
<rect x="566.19" y="178.1" width="0.8" height="3.7" fill="#ef5350"/>
<rect x="567.00" y="176.2" width="0.8" height="5.7" fill="#26a69a"/>
<rect x="567.81" y="175.4" width="0.8" height="5.7" fill="#ef5350"/>
<rect x="568.62" y="177.4" width="0.8" height="3.9" fill="#26a69a"/>
<rect x="569.43" y="178.1" width="0.8" height="1.8" fill="#26a69a"/>
<rect x="570.24" y="178.8" width="0.8" height="2.6" fill="#ef5350"/>
<rect x="571.05" y="180.3" width="0.8" height="4.2" fill="#ef5350"/>
<rect x="571.86" y="177.9" width="0.8" height="6.6" fill="#26a69a"/>
<rect x="572.67" y="175.9" width="0.8" height="5.2" fill="#26a69a"/>
<rect x="573.48" y="176.5" width="0.8" height="4.5" fill="#ef5350"/>
<rect x="574.29" y="175.6" width="0.8" height="7.6" fill="#ef5350"/>
<rect x="575.10" y="179.5" width="0.8" height="14.1" fill="#26a69a"/>
<rect x="575.91" y="177.0" width="0.8" height="5.7" fill="#ef5350"/>
<rect x="576.72" y="179.0" width="0.8" height="8.2" fill="#ef5350"/>
<rect x="577.53" y="182.4" width="0.8" height="2.4" fill="#26a69a"/>
<rect x="578.34" y="181.4" width="0.8" height="4.9" fill="#ef5350"/>
<rect x="579.15" y="182.3" width="0.8" height="5.1" fill="#26a69a"/>
<rect x="579.96" y="181.9" width="0.8" height="3.9" fill="#26a69a"/>
<rect x="580.77" y="182.6" width="0.8" height="3.0" fill="#ef5350"/>
<rect x="581.58" y="179.0" width="0.8" height="11.0" fill="#ef5350"/>
<rect x="582.39" y="181.7" width="0.8" height="8.3" fill="#26a69a"/>
<rect x="583.20" y="181.6" width="0.8" height="3.3" fill="#26a69a"/>
<rect x="584.01" y="178.0" width="0.8" height="5.0" fill="#26a69a"/>
<rect x="584.82" y="179.0" width="0.8" height="4.3" fill="#ef5350"/>
<rect x="585.63" y="178.8" width="0.8" height="4.3" fill="#26a69a"/>
<rect x="586.44" y="178.0" width="0.8" height="2.9" fill="#26a69a"/>
<rect x="587.25" y="180.5" width="0.8" height="4.0" fill="#ef5350"/>
<rect x="588.06" y="181.5" width="0.8" height="1.4" fill="#ef5350"/>
<rect x="588.87" y="179.0" width="0.8" height="5.3" fill="#26a69a"/>
<rect x="589.68" y="181.0" width="0.8" height="6.4" fill="#ef5350"/>
<rect x="590.49" y="182.0" width="0.8" height="7.8" fill="#ef5350"/>
<rect x="591.30" y="182.0" width="0.8" height="10.0" fill="#26a69a"/>
<rect x="592.11" y="182.8" width="0.8" height="4.6" fill="#ef5350"/>
<rect x="592.92" y="184.7" width="0.8" height="5.5" fill="#ef5350"/>
<rect x="593.73" y="183.5" width="0.8" height="4.5" fill="#26a69a"/>
<rect x="594.54" y="184.0" width="0.8" height="3.8" fill="#26a69a"/>
<rect x="595.35" y="174.8" width="0.8" height="11.4" fill="#26a69a"/>
<rect x="596.16" y="172.7" width="0.8" height="9.3" fill="#ef5350"/>
<rect x="596.97" y="176.9" width="0.8" height="4.1" fill="#26a69a"/>
<rect x="597.78" y="172.4" width="0.8" height="8.4" fill="#26a69a"/>
<rect x="598.59" y="175.5" width="0.8" height="5.9" fill="#26a69a"/>
<rect x="599.40" y="176.7" width="0.8" height="2.3" fill="#ef5350"/>
<rect x="600.21" y="176.0" width="0.8" height="12.0" fill="#ef5350"/>
<rect x="601.02" y="174.9" width="0.8" height="6.2" fill="#26a69a"/>
<rect x="601.83" y="162.0" width="0.8" height="15.6" fill="#26a69a"/>
<rect x="602.64" y="166.6" width="0.8" height="4.9" fill="#26a69a"/>
<rect x="603.45" y="167.7" width="0.8" height="1.9" fill="#26a69a"/>
<rect x="604.26" y="166.1" width="0.8" height="3.7" fill="#26a69a"/>
<rect x="605.07" y="164.5" width="0.8" height="4.2" fill="#26a69a"/>
<rect x="605.88" y="163.4" width="0.8" height="5.8" fill="#26a69a"/>
<rect x="606.69" y="163.0" width="0.8" height="2.4" fill="#26a69a"/>
<rect x="607.50" y="164.2" width="0.8" height="1.2" fill="#ef5350"/>
<rect x="608.31" y="163.3" width="0.8" height="2.7" fill="#ef5350"/>
<rect x="609.12" y="164.5" width="0.8" height="4.6" fill="#ef5350"/>
<rect x="609.93" y="163.5" width="0.8" height="6.3" fill="#26a69a"/>
<rect x="610.74" y="165.6" width="0.8" height="1.9" fill="#ef5350"/>
<rect x="611.55" y="164.8" width="0.8" height="2.0" fill="#26a69a"/>
<rect x="612.36" y="163.0" width="0.8" height="5.9" fill="#ef5350"/>
<rect x="613.17" y="164.3" width="0.8" height="3.8" fill="#ef5350"/>
<rect x="613.98" y="164.4" width="0.8" height="3.1" fill="#26a69a"/>
<rect x="614.79" y="163.7" width="0.8" height="5.7" fill="#ef5350"/>
<rect x="615.60" y="166.5" width="0.8" height="5.9" fill="#ef5350"/>
<rect x="616.41" y="163.7" width="0.8" height="6.6" fill="#26a69a"/>
<rect x="617.22" y="166.9" width="0.8" height="2.7" fill="#ef5350"/>
<rect x="618.03" y="163.7" width="0.8" height="6.5" fill="#26a69a"/>
<rect x="618.84" y="148.0" width="0.8" height="18.7" fill="#26a69a"/>
<rect x="619.65" y="153.4" width="0.8" height="3.4" fill="#26a69a"/>
<rect x="620.46" y="152.9" width="0.8" height="3.9" fill="#26a69a"/>
<rect x="621.27" y="153.0" width="0.8" height="1.4" fill="#ef5350"/>
<rect x="622.08" y="151.3" width="0.8" height="4.2" fill="#26a69a"/>
<rect x="622.89" y="150.0" width="0.8" height="3.2" fill="#ef5350"/>
<rect x="623.70" y="152.5" width="0.8" height="4.3" fill="#ef5350"/>
<rect x="624.51" y="150.0" width="0.8" height="4.9" fill="#26a69a"/>
<rect x="625.32" y="145.9" width="0.8" height="5.9" fill="#26a69a"/>
<rect x="626.13" y="145.6" width="0.8" height="1.2" fill="#26a69a"/>
<rect x="626.94" y="142.7" width="0.8" height="3.5" fill="#26a69a"/>
<rect x="627.75" y="143.5" width="0.8" height="1.5" fill="#ef5350"/>
<rect x="628.56" y="144.1" width="0.8" height="3.4" fill="#ef5350"/>
<rect x="629.37" y="143.2" width="0.8" height="3.0" fill="#26a69a"/>
<rect x="630.18" y="142.5" width="0.8" height="5.5" fill="#26a69a"/>
<rect x="630.99" y="141.8" width="0.8" height="3.9" fill="#26a69a"/>
<rect x="631.80" y="141.3" width="0.8" height="4.4" fill="#26a69a"/>
<rect x="632.61" y="131.3" width="0.8" height="11.5" fill="#26a69a"/>
<rect x="633.42" y="116.0" width="0.8" height="20.6" fill="#26a69a"/>
<rect x="634.23" y="123.5" width="0.8" height="14.3" fill="#ef5350"/>
<rect x="635.04" y="130.4" width="0.8" height="1.4" fill="#26a69a"/>
<rect x="635.85" y="129.0" width="0.8" height="4.7" fill="#26a69a"/>
<rect x="636.66" y="126.6" width="0.8" height="5.3" fill="#26a69a"/>
<rect x="637.47" y="123.0" width="0.8" height="13.0" fill="#26a69a"/>
<rect x="638.28" y="127.8" width="0.8" height="4.3" fill="#ef5350"/>
<rect x="639.09" y="131.7" width="0.8" height="2.1" fill="#ef5350"/>
<rect x="639.90" y="130.9" width="0.8" height="4.6" fill="#26a69a"/>
<rect x="640.71" y="129.9" width="0.8" height="4.2" fill="#26a69a"/>
<rect x="641.52" y="127.5" width="0.8" height="4.2" fill="#ef5350"/>
<rect x="642.33" y="129.5" width="0.8" height="2.6" fill="#26a69a"/>
<rect x="643.14" y="128.5" width="0.8" height="5.4" fill="#ef5350"/>
<rect x="643.95" y="128.9" width="0.8" height="7.1" fill="#ef5350"/>
<rect x="644.76" y="130.6" width="0.8" height="4.7" fill="#26a69a"/>
<rect x="645.57" y="129.8" width="0.8" height="6.2" fill="#26a69a"/>
<rect x="646.38" y="131.8" width="0.8" height="1.3" fill="#ef5350"/>
<rect x="647.19" y="128.9" width="0.8" height="3.7" fill="#26a69a"/>
<rect x="648.00" y="127.5" width="0.8" height="2.6" fill="#ef5350"/>
<rect x="648.81" y="124.7" width="0.8" height="7.9" fill="#26a69a"/>
<rect x="649.62" y="125.0" width="0.8" height="2.4" fill="#26a69a"/>
<rect x="650.43" y="124.0" width="0.8" height="3.8" fill="#26a69a"/>
<rect x="651.24" y="124.1" width="0.8" height="5.4" fill="#ef5350"/>
<rect x="652.05" y="126.8" width="0.8" height="7.2" fill="#ef5350"/>
<rect x="652.86" y="130.9" width="0.8" height="7.8" fill="#ef5350"/>
<rect x="653.67" y="135.4" width="0.8" height="5.1" fill="#ef5350"/>
<rect x="654.48" y="134.2" width="0.8" height="9.7" fill="#ef5350"/>
<rect x="655.29" y="139.9" width="0.8" height="4.8" fill="#26a69a"/>
<rect x="656.10" y="136.6" width="0.8" height="6.2" fill="#26a69a"/>
<rect x="656.91" y="134.3" width="0.8" height="4.2" fill="#26a69a"/>
<rect x="657.72" y="134.2" width="0.8" height="7.7" fill="#ef5350"/>
<rect x="658.53" y="135.9" width="0.8" height="5.3" fill="#26a69a"/>
<rect x="659.34" y="136.9" width="0.8" height="9.4" fill="#ef5350"/>
<rect x="660.15" y="141.3" width="0.8" height="6.1" fill="#ef5350"/>
<rect x="660.96" y="141.3" width="0.8" height="6.0" fill="#26a69a"/>
<rect x="661.77" y="143.8" width="0.8" height="3.9" fill="#ef5350"/>
<rect x="662.58" y="146.5" width="0.8" height="5.2" fill="#ef5350"/>
<rect x="663.39" y="145.0" width="0.8" height="6.7" fill="#26a69a"/>
<rect x="664.20" y="144.3" width="0.8" height="4.9" fill="#26a69a"/>
<rect x="665.01" y="143.6" width="0.8" height="3.9" fill="#26a69a"/>
<rect x="665.82" y="143.8" width="0.8" height="4.1" fill="#ef5350"/>
<rect x="666.63" y="146.3" width="0.8" height="10.6" fill="#ef5350"/>
<rect x="667.44" y="152.8" width="0.8" height="7.9" fill="#ef5350"/>
<rect x="668.25" y="146.3" width="0.8" height="14.2" fill="#26a69a"/>
<rect x="669.06" y="152.7" width="0.8" height="8.6" fill="#ef5350"/>
<rect x="669.87" y="156.4" width="0.8" height="4.5" fill="#26a69a"/>
<rect x="670.68" y="149.7" width="0.8" height="13.9" fill="#26a69a"/>
<rect x="671.49" y="151.2" width="0.8" height="4.3" fill="#ef5350"/>
<rect x="672.30" y="148.9" width="0.8" height="11.0" fill="#ef5350"/>
<rect x="673.11" y="151.2" width="0.8" height="8.4" fill="#26a69a"/>
<rect x="673.92" y="147.7" width="0.8" height="9.9" fill="#ef5350"/>
<rect x="674.73" y="154.0" width="0.8" height="8.7" fill="#ef5350"/>
<rect x="675.54" y="146.3" width="0.8" height="14.4" fill="#26a69a"/>
<rect x="676.35" y="148.9" width="0.8" height="8.6" fill="#26a69a"/>
<rect x="677.16" y="150.3" width="0.8" height="2.5" fill="#26a69a"/>
<rect x="677.97" y="147.0" width="0.8" height="4.5" fill="#26a69a"/>
<rect x="678.78" y="144.4" width="0.8" height="4.8" fill="#26a69a"/>
<rect x="679.59" y="141.0" width="0.8" height="7.9" fill="#ef5350"/>
<rect x="680.40" y="143.4" width="0.8" height="7.4" fill="#26a69a"/>
<rect x="681.21" y="142.8" width="0.8" height="8.7" fill="#26a69a"/>
<rect x="682.02" y="144.6" width="0.8" height="4.1" fill="#ef5350"/>
<rect x="682.83" y="148.1" width="0.8" height="2.8" fill="#26a69a"/>
<rect x="683.64" y="147.0" width="0.8" height="1.3" fill="#26a69a"/>
<rect x="684.45" y="142.9" width="0.8" height="6.2" fill="#26a69a"/>
<rect x="685.26" y="143.5" width="0.8" height="3.7" fill="#26a69a"/>
<rect x="686.07" y="143.7" width="0.8" height="7.5" fill="#ef5350"/>
<rect x="686.88" y="147.1" width="0.8" height="3.5" fill="#ef5350"/>
<rect x="687.69" y="143.7" width="0.8" height="7.0" fill="#26a69a"/>
<rect x="688.50" y="144.7" width="0.8" height="3.8" fill="#ef5350"/>
<rect x="689.31" y="134.0" width="0.8" height="13.4" fill="#26a69a"/>
<rect x="690.12" y="137.9" width="0.8" height="8.4" fill="#26a69a"/>
<rect x="690.93" y="137.0" width="0.8" height="2.4" fill="#26a69a"/>
<rect x="691.74" y="134.0" width="0.8" height="6.1" fill="#26a69a"/>
<rect x="692.55" y="136.6" width="0.8" height="2.8" fill="#ef5350"/>
<rect x="693.36" y="138.2" width="0.8" height="1.4" fill="#26a69a"/>
<rect x="694.17" y="136.4" width="0.8" height="2.4" fill="#26a69a"/>
<rect x="694.98" y="123.8" width="0.8" height="14.6" fill="#26a69a"/>
<rect x="695.79" y="127.8" width="0.8" height="8.2" fill="#26a69a"/>
<rect x="696.60" y="128.4" width="0.8" height="7.7" fill="#ef5350"/>
<rect x="697.41" y="135.2" width="0.8" height="2.9" fill="#ef5350"/>
<rect x="698.22" y="130.7" width="0.8" height="27.7" fill="#ef5350"/>
<rect x="699.03" y="147.5" width="0.8" height="7.0" fill="#ef5350"/>
<rect x="699.84" y="152.4" width="0.8" height="7.6" fill="#ef5350"/>
<rect x="700.65" y="151.5" width="0.8" height="6.0" fill="#ef5350"/>
<rect x="701.46" y="149.5" width="0.8" height="6.3" fill="#26a69a"/>
<rect x="702.27" y="149.0" width="0.8" height="3.5" fill="#26a69a"/>
<rect x="703.08" y="150.2" width="0.8" height="3.0" fill="#26a69a"/>
<rect x="703.89" y="150.1" width="0.8" height="2.0" fill="#ef5350"/>
<rect x="704.70" y="148.3" width="0.8" height="2.5" fill="#ef5350"/>
<rect x="705.51" y="143.7" width="0.8" height="9.5" fill="#26a69a"/>
<rect x="706.32" y="143.7" width="0.8" height="4.7" fill="#26a69a"/>
<rect x="707.13" y="146.4" width="0.8" height="3.8" fill="#ef5350"/>
<rect x="707.94" y="148.0" width="0.8" height="5.2" fill="#ef5350"/>
<rect x="708.75" y="146.5" width="0.8" height="4.4" fill="#26a69a"/>
<rect x="709.56" y="143.7" width="0.8" height="3.8" fill="#26a69a"/>
<rect x="710.37" y="144.3" width="0.8" height="2.4" fill="#26a69a"/>
<rect x="711.18" y="144.5" width="0.8" height="4.4" fill="#26a69a"/>
<rect x="711.99" y="145.9" width="0.8" height="7.9" fill="#ef5350"/>
<rect x="712.80" y="150.9" width="0.8" height="12.3" fill="#ef5350"/>
<rect x="713.61" y="159.9" width="0.8" height="14.1" fill="#26a69a"/>
<rect x="714.42" y="161.3" width="0.8" height="31.7" fill="#ef5350"/>
<rect x="715.23" y="168.4" width="0.8" height="13.9" fill="#ef5350"/>
<rect x="716.04" y="168.7" width="0.8" height="10.6" fill="#26a69a"/>
<rect x="716.85" y="168.9" width="0.8" height="16.2" fill="#ef5350"/>
<rect x="717.66" y="182.0" width="0.8" height="9.2" fill="#26a69a"/>
<rect x="718.47" y="177.4" width="0.8" height="9.0" fill="#26a69a"/>
<rect x="719.28" y="179.2" width="0.8" height="12.0" fill="#ef5350"/>
<rect x="720.09" y="181.0" width="0.8" height="3.8" fill="#26a69a"/>
<rect x="720.90" y="181.0" width="0.8" height="6.4" fill="#ef5350"/>
<rect x="721.71" y="185.0" width="0.8" height="3.5" fill="#ef5350"/>
<rect x="722.52" y="181.8" width="0.8" height="4.9" fill="#26a69a"/>
<rect x="723.33" y="180.2" width="0.8" height="3.5" fill="#26a69a"/>
<rect x="724.14" y="180.1" width="0.8" height="2.5" fill="#26a69a"/>
<rect x="724.95" y="179.1" width="0.8" height="5.2" fill="#ef5350"/>
<rect x="725.76" y="180.5" width="0.8" height="3.8" fill="#ef5350"/>
<rect x="726.57" y="175.7" width="0.8" height="7.6" fill="#ef5350"/>
<rect x="727.38" y="179.3" width="0.8" height="3.7" fill="#26a69a"/>
<rect x="728.19" y="177.9" width="0.8" height="6.0" fill="#ef5350"/>
<rect x="729.00" y="172.6" width="0.8" height="9.0" fill="#26a69a"/>
<rect x="729.81" y="163.6" width="0.8" height="13.3" fill="#26a69a"/>
<rect x="730.62" y="167.8" width="0.8" height="9.6" fill="#26a69a"/>
<rect x="731.43" y="168.2" width="0.8" height="2.6" fill="#26a69a"/>
<rect x="732.24" y="164.5" width="0.8" height="5.9" fill="#26a69a"/>
<rect x="733.05" y="167.2" width="0.8" height="4.2" fill="#ef5350"/>
<rect x="733.86" y="169.4" width="0.8" height="4.2" fill="#ef5350"/>
<rect x="734.67" y="170.0" width="0.8" height="5.1" fill="#ef5350"/>
<rect x="735.48" y="151.5" width="0.8" height="23.1" fill="#26a69a"/>
<rect x="736.29" y="158.1" width="0.8" height="5.7" fill="#26a69a"/>
<rect x="737.10" y="158.0" width="0.8" height="3.9" fill="#26a69a"/>
<rect x="737.91" y="158.8" width="0.8" height="2.3" fill="#ef5350"/>
<rect x="738.72" y="157.4" width="0.8" height="4.4" fill="#26a69a"/>
<rect x="739.53" y="154.3" width="0.8" height="3.2" fill="#26a69a"/>
<rect x="740.34" y="155.8" width="0.8" height="1.7" fill="#ef5350"/>
<rect x="741.15" y="156.2" width="0.8" height="3.9" fill="#ef5350"/>
<rect x="741.96" y="156.5" width="0.8" height="5.3" fill="#26a69a"/>
<rect x="742.77" y="157.9" width="0.8" height="3.2" fill="#ef5350"/>
<rect x="743.58" y="154.0" width="0.8" height="7.6" fill="#26a69a"/>
<rect x="744.39" y="156.2" width="0.8" height="2.8" fill="#26a69a"/>
<rect x="745.20" y="156.2" width="0.8" height="1.2" fill="#26a69a"/>
<rect x="746.01" y="155.2" width="0.8" height="3.0" fill="#ef5350"/>
<rect x="746.82" y="156.8" width="0.8" height="2.3" fill="#ef5350"/>
<rect x="747.63" y="154.5" width="0.8" height="5.9" fill="#26a69a"/>
<rect x="748.44" y="156.5" width="0.8" height="2.4" fill="#ef5350"/>
<rect x="749.25" y="154.0" width="0.8" height="7.0" fill="#ef5350"/>
<rect x="750.06" y="158.9" width="0.8" height="4.1" fill="#ef5350"/>
<rect x="750.87" y="161.3" width="0.8" height="8.1" fill="#ef5350"/>
<rect x="751.68" y="161.3" width="0.8" height="12.4" fill="#ef5350"/>
<rect x="752.49" y="166.0" width="0.8" height="11.5" fill="#ef5350"/>
<rect x="753.30" y="173.4" width="0.8" height="5.9" fill="#ef5350"/>
<rect x="754.11" y="174.2" width="0.8" height="11.8" fill="#ef5350"/>
<rect x="754.92" y="166.0" width="0.8" height="19.3" fill="#ef5350"/>
<rect x="755.73" y="175.7" width="0.8" height="6.2" fill="#26a69a"/>
<rect x="756.54" y="171.7" width="0.8" height="8.5" fill="#26a69a"/>
<rect x="757.35" y="172.2" width="0.8" height="3.9" fill="#ef5350"/>
<rect x="758.16" y="175.5" width="0.8" height="3.2" fill="#ef5350"/>
<rect x="758.97" y="170.6" width="0.8" height="8.4" fill="#ef5350"/>
<rect x="759.78" y="174.9" width="0.8" height="6.5" fill="#ef5350"/>
<rect x="760.59" y="175.2" width="0.8" height="6.1" fill="#26a69a"/>
<rect x="761.40" y="176.7" width="0.8" height="2.8" fill="#26a69a"/>
<rect x="762.21" y="175.2" width="0.8" height="4.6" fill="#26a69a"/>
<rect x="763.02" y="176.3" width="0.8" height="2.3" fill="#ef5350"/>
<rect x="763.83" y="175.7" width="0.8" height="2.7" fill="#ef5350"/>
<rect x="764.64" y="175.4" width="0.8" height="7.6" fill="#ef5350"/>
<rect x="765.45" y="177.1" width="0.8" height="4.8" fill="#ef5350"/>
<rect x="766.26" y="177.7" width="0.8" height="2.3" fill="#26a69a"/>
<rect x="767.07" y="177.7" width="0.8" height="2.6" fill="#26a69a"/>
<rect x="767.88" y="176.4" width="0.8" height="4.2" fill="#26a69a"/>
<rect x="768.69" y="176.8" width="0.8" height="13.9" fill="#ef5350"/>
<rect x="769.50" y="168.5" width="0.8" height="11.5" fill="#26a69a"/>
<rect x="770.31" y="161.3" width="0.8" height="11.8" fill="#26a69a"/>
<rect x="771.12" y="169.8" width="0.8" height="10.2" fill="#ef5350"/>
<rect x="771.93" y="159.8" width="0.8" height="15.2" fill="#26a69a"/>
<rect x="772.74" y="163.2" width="0.8" height="7.8" fill="#26a69a"/>
<rect x="773.55" y="164.6" width="0.8" height="5.0" fill="#ef5350"/>
<rect x="774.36" y="165.8" width="0.8" height="2.7" fill="#26a69a"/>
<rect x="775.17" y="166.6" width="0.8" height="4.8" fill="#ef5350"/>
<rect x="775.98" y="167.7" width="0.8" height="4.3" fill="#26a69a"/>
<rect x="776.79" y="154.9" width="0.8" height="13.3" fill="#26a69a"/>
<rect x="777.60" y="158.3" width="0.8" height="3.0" fill="#26a69a"/>
<rect x="778.41" y="153.8" width="0.8" height="6.5" fill="#26a69a"/>
<rect x="779.22" y="149.0" width="0.8" height="14.0" fill="#26a69a"/>
<rect x="780.03" y="133.5" width="0.8" height="22.7" fill="#26a69a"/>
<rect x="780.84" y="139.5" width="0.8" height="9.5" fill="#26a69a"/>
<rect x="781.65" y="139.7" width="0.8" height="7.7" fill="#ef5350"/>
<rect x="782.46" y="142.4" width="0.8" height="1.3" fill="#26a69a"/>
<rect x="783.27" y="142.9" width="0.8" height="1.9" fill="#ef5350"/>
<rect x="784.08" y="143.3" width="0.8" height="2.3" fill="#26a69a"/>
<rect x="784.89" y="139.7" width="0.8" height="5.3" fill="#26a69a"/>
<rect x="785.70" y="141.6" width="0.8" height="3.6" fill="#26a69a"/>
<rect x="786.51" y="140.8" width="0.8" height="3.5" fill="#26a69a"/>
<rect x="787.32" y="136.2" width="0.8" height="7.4" fill="#26a69a"/>
<rect x="788.13" y="135.0" width="0.8" height="2.7" fill="#26a69a"/>
<rect x="788.94" y="135.5" width="0.8" height="8.8" fill="#ef5350"/>
<rect x="789.75" y="136.7" width="0.8" height="2.8" fill="#26a69a"/>
<rect x="790.56" y="132.8" width="0.8" height="7.1" fill="#26a69a"/>
<rect x="791.37" y="137.6" width="0.8" height="7.5" fill="#ef5350"/>
<rect x="792.18" y="142.8" width="0.8" height="5.9" fill="#ef5350"/>
<rect x="792.99" y="142.8" width="0.8" height="13.9" fill="#26a69a"/>
<rect x="793.80" y="146.5" width="0.8" height="4.5" fill="#ef5350"/>
<rect x="794.61" y="149.6" width="0.8" height="3.4" fill="#ef5350"/>
<rect x="795.42" y="150.7" width="0.8" height="1.8" fill="#ef5350"/>
<rect x="796.23" y="152.3" width="0.8" height="1.6" fill="#ef5350"/>
<rect x="797.04" y="151.3" width="0.8" height="2.6" fill="#26a69a"/>
<rect x="797.85" y="149.8" width="0.8" height="2.6" fill="#26a69a"/>
<rect x="798.66" y="151.4" width="0.8" height="1.2" fill="#ef5350"/>
<rect x="799.47" y="150.3" width="0.8" height="4.7" fill="#26a69a"/>
<rect x="800.28" y="149.7" width="0.8" height="3.7" fill="#26a69a"/>
<rect x="801.09" y="150.8" width="0.8" height="1.8" fill="#ef5350"/>
<rect x="801.90" y="152.5" width="0.8" height="1.2" fill="#ef5350"/>
<rect x="802.71" y="149.7" width="0.8" height="5.3" fill="#26a69a"/>
<rect x="803.52" y="151.2" width="0.8" height="1.9" fill="#ef5350"/>
<rect x="804.33" y="152.6" width="0.8" height="2.2" fill="#ef5350"/>
<rect x="805.14" y="152.5" width="0.8" height="1.4" fill="#26a69a"/>
<rect x="805.95" y="150.9" width="0.8" height="4.1" fill="#26a69a"/>
<rect x="806.76" y="150.0" width="0.8" height="2.9" fill="#ef5350"/>
<rect x="807.57" y="151.3" width="0.8" height="16.2" fill="#ef5350"/>
<rect x="808.38" y="158.6" width="0.8" height="7.5" fill="#26a69a"/>
<rect x="809.19" y="157.6" width="0.8" height="8.5" fill="#ef5350"/>
<rect x="810.00" y="158.2" width="0.8" height="7.0" fill="#26a69a"/>
<rect x="810.81" y="152.2" width="0.8" height="7.7" fill="#26a69a"/>
<rect x="811.62" y="153.1" width="0.8" height="3.8" fill="#26a69a"/>
<rect x="812.43" y="150.5" width="0.8" height="9.6" fill="#26a69a"/>
<rect x="813.24" y="136.6" width="0.8" height="18.3" fill="#26a69a"/>
<rect x="814.05" y="141.5" width="0.8" height="5.1" fill="#26a69a"/>
<rect x="814.86" y="136.6" width="0.8" height="9.4" fill="#26a69a"/>
<rect x="815.67" y="139.2" width="0.8" height="4.1" fill="#ef5350"/>
<rect x="816.48" y="136.3" width="0.8" height="15.7" fill="#ef5350"/>
<rect x="817.29" y="135.8" width="0.8" height="10.3" fill="#26a69a"/>
<rect x="818.10" y="140.2" width="0.8" height="3.8" fill="#ef5350"/>
<rect x="818.91" y="143.7" width="0.8" height="4.8" fill="#ef5350"/>
<rect x="819.72" y="146.8" width="0.8" height="1.3" fill="#ef5350"/>
<rect x="820.53" y="147.0" width="0.8" height="2.7" fill="#ef5350"/>
<rect x="821.34" y="149.2" width="0.8" height="2.2" fill="#ef5350"/>
<rect x="822.15" y="148.9" width="0.8" height="2.5" fill="#26a69a"/>
<rect x="822.96" y="148.9" width="0.8" height="4.0" fill="#ef5350"/>
<rect x="823.77" y="148.1" width="0.8" height="3.4" fill="#26a69a"/>
<rect x="824.58" y="147.0" width="0.8" height="6.0" fill="#26a69a"/>
<rect x="825.39" y="148.4" width="0.8" height="1.5" fill="#ef5350"/>
<rect x="826.20" y="148.1" width="0.8" height="3.0" fill="#ef5350"/>
<rect x="827.01" y="148.4" width="0.8" height="5.3" fill="#ef5350"/>
<rect x="827.82" y="145.0" width="0.8" height="9.3" fill="#ef5350"/>
<rect x="828.63" y="150.5" width="0.8" height="8.5" fill="#ef5350"/>
<rect x="829.44" y="153.9" width="0.8" height="5.1" fill="#ef5350"/>
<rect x="830.25" y="146.9" width="0.8" height="9.0" fill="#26a69a"/>
<rect x="831.06" y="134.0" width="0.8" height="15.0" fill="#26a69a"/>
<rect x="831.87" y="137.0" width="0.8" height="7.8" fill="#26a69a"/>
<rect x="832.68" y="138.6" width="0.8" height="3.6" fill="#26a69a"/>
<rect x="833.49" y="136.9" width="0.8" height="3.8" fill="#26a69a"/>
<rect x="834.30" y="134.0" width="0.8" height="8.0" fill="#ef5350"/>
<rect x="835.11" y="135.4" width="0.8" height="7.5" fill="#26a69a"/>
<rect x="835.92" y="134.7" width="0.8" height="8.3" fill="#ef5350"/>
<rect x="836.73" y="139.1" width="0.8" height="3.6" fill="#26a69a"/>
<rect x="837.54" y="138.5" width="0.8" height="4.0" fill="#26a69a"/>
<rect x="838.35" y="137.4" width="0.8" height="3.5" fill="#ef5350"/>
<rect x="839.16" y="138.3" width="0.8" height="3.6" fill="#26a69a"/>
<rect x="839.97" y="137.3" width="0.8" height="4.2" fill="#ef5350"/>
<rect x="840.78" y="136.0" width="0.8" height="3.5" fill="#26a69a"/>
<rect x="841.59" y="137.6" width="0.8" height="1.2" fill="#26a69a"/>
<rect x="842.40" y="136.0" width="0.8" height="3.3" fill="#ef5350"/>
<rect x="843.21" y="137.5" width="0.8" height="2.7" fill="#ef5350"/>
<rect x="844.02" y="124.9" width="0.8" height="14.1" fill="#26a69a"/>
<rect x="844.83" y="121.1" width="0.8" height="9.1" fill="#26a69a"/>
<rect x="845.64" y="121.9" width="0.8" height="9.7" fill="#ef5350"/>
<rect x="846.45" y="114.0" width="0.8" height="17.6" fill="#26a69a"/>
<rect x="847.26" y="104.0" width="0.8" height="21.5" fill="#26a69a"/>
<rect x="848.07" y="108.8" width="0.8" height="6.0" fill="#26a69a"/>
<rect x="848.88" y="106.8" width="0.8" height="9.6" fill="#ef5350"/>
<rect x="849.69" y="108.2" width="0.8" height="14.4" fill="#26a69a"/>
<rect x="850.50" y="112.2" width="0.8" height="5.8" fill="#ef5350"/>
<rect x="851.31" y="111.6" width="0.8" height="4.7" fill="#ef5350"/>
<rect x="852.12" y="115.9" width="0.8" height="1.5" fill="#ef5350"/>
<rect x="852.93" y="113.1" width="0.8" height="9.9" fill="#26a69a"/>
<rect x="853.74" y="107.2" width="0.8" height="10.3" fill="#26a69a"/>
<rect x="854.55" y="105.2" width="0.8" height="11.6" fill="#ef5350"/>
<rect x="855.36" y="113.8" width="0.8" height="2.6" fill="#26a69a"/>
<rect x="856.17" y="112.8" width="0.8" height="2.2" fill="#26a69a"/>
<rect x="856.98" y="113.5" width="0.8" height="1.5" fill="#26a69a"/>
<rect x="857.79" y="111.4" width="0.8" height="3.5" fill="#26a69a"/>
<rect x="858.60" y="112.4" width="0.8" height="1.4" fill="#ef5350"/>
<rect x="859.41" y="111.4" width="0.8" height="3.4" fill="#26a69a"/>
<rect x="860.22" y="112.2" width="0.8" height="2.1" fill="#ef5350"/>
<rect x="861.03" y="112.9" width="0.8" height="2.1" fill="#ef5350"/>
<rect x="861.84" y="111.9" width="0.8" height="3.1" fill="#26a69a"/>
<rect x="862.65" y="108.7" width="0.8" height="5.9" fill="#26a69a"/>
<rect x="863.46" y="109.5" width="0.8" height="3.8" fill="#ef5350"/>
<rect x="864.27" y="112.0" width="0.8" height="2.0" fill="#ef5350"/>
<rect x="865.08" y="110.0" width="0.8" height="8.5" fill="#ef5350"/>
<rect x="865.89" y="94.6" width="0.8" height="19.4" fill="#26a69a"/>
<rect x="866.70" y="88.4" width="0.8" height="7.9" fill="#26a69a"/>
<rect x="867.51" y="88.0" width="0.8" height="5.4" fill="#26a69a"/>
<rect x="868.32" y="80.0" width="0.8" height="12.2" fill="#26a69a"/>
<rect x="869.13" y="73.5" width="0.8" height="11.9" fill="#26a69a"/>
<rect x="869.94" y="59.6" width="0.8" height="14.7" fill="#26a69a"/>
<rect x="870.75" y="61.3" width="0.8" height="8.3" fill="#26a69a"/>
<rect x="871.56" y="56.4" width="0.8" height="9.6" fill="#26a69a"/>
<rect x="872.37" y="53.0" width="0.8" height="15.0" fill="#26a69a"/>
<rect x="873.18" y="57.8" width="0.8" height="7.0" fill="#ef5350"/>
<rect x="873.99" y="60.3" width="0.8" height="7.7" fill="#ef5350"/>
</g>
<!-- purple upper band -->
<rect x="-2" y="131.3" width="433" height="18" fill="rgba(126,87,194,0.21)" stroke="#b998da" stroke-width="1.1"/>
<line x1="-1" y1="140.3" x2="431" y2="140.3" stroke="#b070a8" stroke-width="1" stroke-dasharray="3.8,2.9"/>
<!-- small box left -->
<rect x="0" y="475.5" width="7" height="9" fill="rgba(126,87,194,0.21)"/>
<line x1="0" y1="475.5" x2="7" y2="475.5" stroke="#b998da" stroke-width="1.1"/>
<line x1="0" y1="484.4" x2="7" y2="484.4" stroke="#b998da" stroke-width="1.1"/>
<line x1="4" y1="480" x2="7" y2="480" stroke="#a9619f" stroke-width="1.4"/>
<!-- lower sloped band -->
<polygon points="-2,495.5 323.5,491.4 323.5,505.6 -2,509.2" fill="rgba(126,87,194,0.21)" stroke="#b998da" stroke-width="1.1"/>
<line x1="0" y1="502.3" x2="323" y2="498.5" stroke="#b070a8" stroke-width="1" stroke-dasharray="3.8,2.9"/>
<!-- lines -->
<line x1="207.2" y1="49.2" x2="881.5" y2="48.3" stroke="#5db8ae" stroke-width="1.6"/>
<line x1="100.7" y1="312.6" x2="531" y2="312.8" stroke="#5db8ae" stroke-width="1.6"/>
<line x1="0" y1="340" x2="537.7" y2="339.6" stroke="#5db8ae" stroke-width="1.6"/>
<line x1="219.6" y1="161.3" x2="301.7" y2="161.3" stroke="#7cc6bd" stroke-width="1.2"/>
<line x1="602.7" y1="161.3" x2="700.7" y2="161.3" stroke="#55575f" stroke-width="1.5"/>
<line x1="538.2" y1="389.5" x2="890.4" y2="388.3" stroke="#55575f" stroke-width="1.5"/>
<line x1="0" y1="68.5" x2="895" y2="68.5" stroke="#f4908e" stroke-width="1" stroke-dasharray="1.4,0.8"/>
</svg>
<div class="txt" style="left:662px;top:43.7px;">241% bar 1.3128</div>
<div class="txt" style="left:191px;top:294.2px;">S-L 200% bar low 1.2671</div>
<div class="txt" style="left:131px;top:344.6px;">Support Level 1.2509 low</div>
<div class="txt" style="left:625px;top:374.9px;">Entry to 1.2408 Possible Low target 61% bar Low</div>
<div class="txt" style="left:-0.5px;top:131px;font-size:14.3px;line-height:16px;color:#5b7573;filter:none;">s set at 1.2958</div>
<svg width="932" height="550" style="position:absolute;left:0;top:0">
<defs><clipPath id="c1"><circle cx="873.4" cy="522" r="6.3"/></clipPath><clipPath id="c2"><rect x="882" y="514.5" width="12" height="14.2" rx="3.5"/></clipPath></defs>
<g clip-path="url(#c1)">
<rect x="866" y="514" width="15" height="16" fill="#fff"/>
<rect x="866" y="518.6" width="15" height="1.3" fill="#f06260"/>
<rect x="866" y="521.2" width="15" height="1.3" fill="#f06260"/>
<rect x="866" y="524" width="15" height="1.5" fill="#f06260"/>
<rect x="866" y="526.6" width="15" height="1.5" fill="#f06260"/>
<rect x="866" y="515" width="9.6" height="7.4" fill="#6fc4bb"/>
</g>
<circle cx="873.4" cy="522" r="6.6" fill="none" stroke="#ef5350" stroke-width="1.2"/>
<g clip-path="url(#c2)">
<rect x="881" y="513" width="15" height="17" fill="#7fb3c4"/>
<line x1="881" y1="513" x2="895" y2="530" stroke="#fff" stroke-width="1.8"/>
<line x1="895" y1="513" x2="881" y2="530" stroke="#fff" stroke-width="1.8"/>
<rect x="881" y="519.8" width="15" height="3.6" fill="#fff"/>
<rect x="885.4" y="513" width="3.6" height="17" fill="#fff"/>
<rect x="881" y="520.8" width="15" height="2" fill="#f06260"/>
<rect x="886.2" y="513" width="2" height="17" fill="#f06260"/>
</g>
<rect x="881.8" y="514.2" width="12.6" height="14.8" rx="4" fill="none" stroke="#ef5350" stroke-width="1.3"/>
<text x="877.9" y="519.2" font-family="Liberation Sans" font-size="8.2" fill="#131722" stroke="#131722" stroke-width="0.2" style="filter:grayscale(1)">2</text>
</svg>
<!-- axes -->
<div style="position:absolute;left:895px;top:0;width:1px;height:550px;background:#7c7f86"></div>
<div style="position:absolute;left:0;top:531px;width:932px;height:1px;background:#7c7f86"></div>
<div class="pl" style="top:10.67px">1.32000</div><div class="tk" style="top:15.97px"></div>
<div class="pl" style="top:34.18px">1.31500</div><div class="tk" style="top:39.48px"></div>
<div class="pl" style="top:57.69px">1.31000</div><div class="tk" style="top:62.99px"></div>
<div class="pl" style="top:81.19px">1.30500</div><div class="tk" style="top:86.49px"></div>
<div class="pl" style="top:104.70px">1.30000</div><div class="tk" style="top:110.00px"></div>
<div class="pl" style="top:128.21px">1.29500</div><div class="tk" style="top:133.51px"></div>
<div class="pl" style="top:151.71px">1.29000</div><div class="tk" style="top:157.01px"></div>
<div class="pl" style="top:175.22px">1.28500</div><div class="tk" style="top:180.52px"></div>
<div class="pl" style="top:198.73px">1.28000</div><div class="tk" style="top:204.03px"></div>
<div class="pl" style="top:222.24px">1.27500</div><div class="tk" style="top:227.54px"></div>
<div class="pl" style="top:245.74px">1.27000</div><div class="tk" style="top:251.04px"></div>
<div class="pl" style="top:269.25px">1.26500</div><div class="tk" style="top:274.55px"></div>
<div class="pl" style="top:292.76px">1.26000</div><div class="tk" style="top:298.06px"></div>
<div class="pl" style="top:316.26px">1.25500</div><div class="tk" style="top:321.56px"></div>
<div class="pl" style="top:339.77px">1.25000</div><div class="tk" style="top:345.07px"></div>
<div class="pl" style="top:363.28px">1.24500</div><div class="tk" style="top:368.58px"></div>
<div class="pl" style="top:386.78px">1.24000</div><div class="tk" style="top:392.08px"></div>
<div class="pl" style="top:410.29px">1.23500</div><div class="tk" style="top:415.59px"></div>
<div class="pl" style="top:433.80px">1.23000</div><div class="tk" style="top:439.10px"></div>
<div class="pl" style="top:457.31px">1.22500</div><div class="tk" style="top:462.61px"></div>
<div class="pl" style="top:480.81px">1.22000</div><div class="tk" style="top:486.11px"></div>
<div class="pl" style="top:504.32px">1.21500</div><div class="tk" style="top:509.62px"></div>
<div class="tl" style="left:25.5px">7</div><div class="tt" style="left:45.0px"></div>
<div class="tl" style="left:122.5px">14</div><div class="tt" style="left:142.0px"></div>
<div class="tl" style="left:220.0px">21</div><div class="tt" style="left:239.5px"></div>
<div class="tl" style="left:316.7px">28</div><div class="tt" style="left:336.2px"></div>
<div class="tl" style="left:394.4px">Nov</div><div class="tt" style="left:413.9px"></div>
<div class="tl" style="left:452.2px">6</div><div class="tt" style="left:471.7px"></div>
<div class="tl" style="left:510.2px">11</div><div class="tt" style="left:529.7px"></div>
<div class="tl" style="left:607.2px">18</div><div class="tt" style="left:626.7px"></div>
<div class="tl" style="left:704.5px">25</div><div class="tt" style="left:724.0px"></div>
<div class="tl" style="left:799.4px">Dec</div><div class="tt" style="left:818.9px"></div>
<div class="tl" style="left:859.6px">5</div><div class="tt" style="left:879.1px"></div>
<!-- price label -->
<div style="position:absolute;left:895px;top:62px;width:37px;height:12px;background:#ef5350;"></div>
<div style="position:absolute;left:896px;top:67.5px;width:2px;height:1px;background:#fbd0cf;"></div><div class="pl" style="top:62.2px;color:#fff;-webkit-text-stroke:0.3px #fff;">1.30892</div>
<div style="position:absolute;left:906px;top:74.6px;width:26px;height:12px;background:#ef5350;"></div>
<div class="pl" style="left:908.5px;top:74.8px;color:#fff;-webkit-text-stroke:0.3px #fff;">49:34</div>
</body></html>
